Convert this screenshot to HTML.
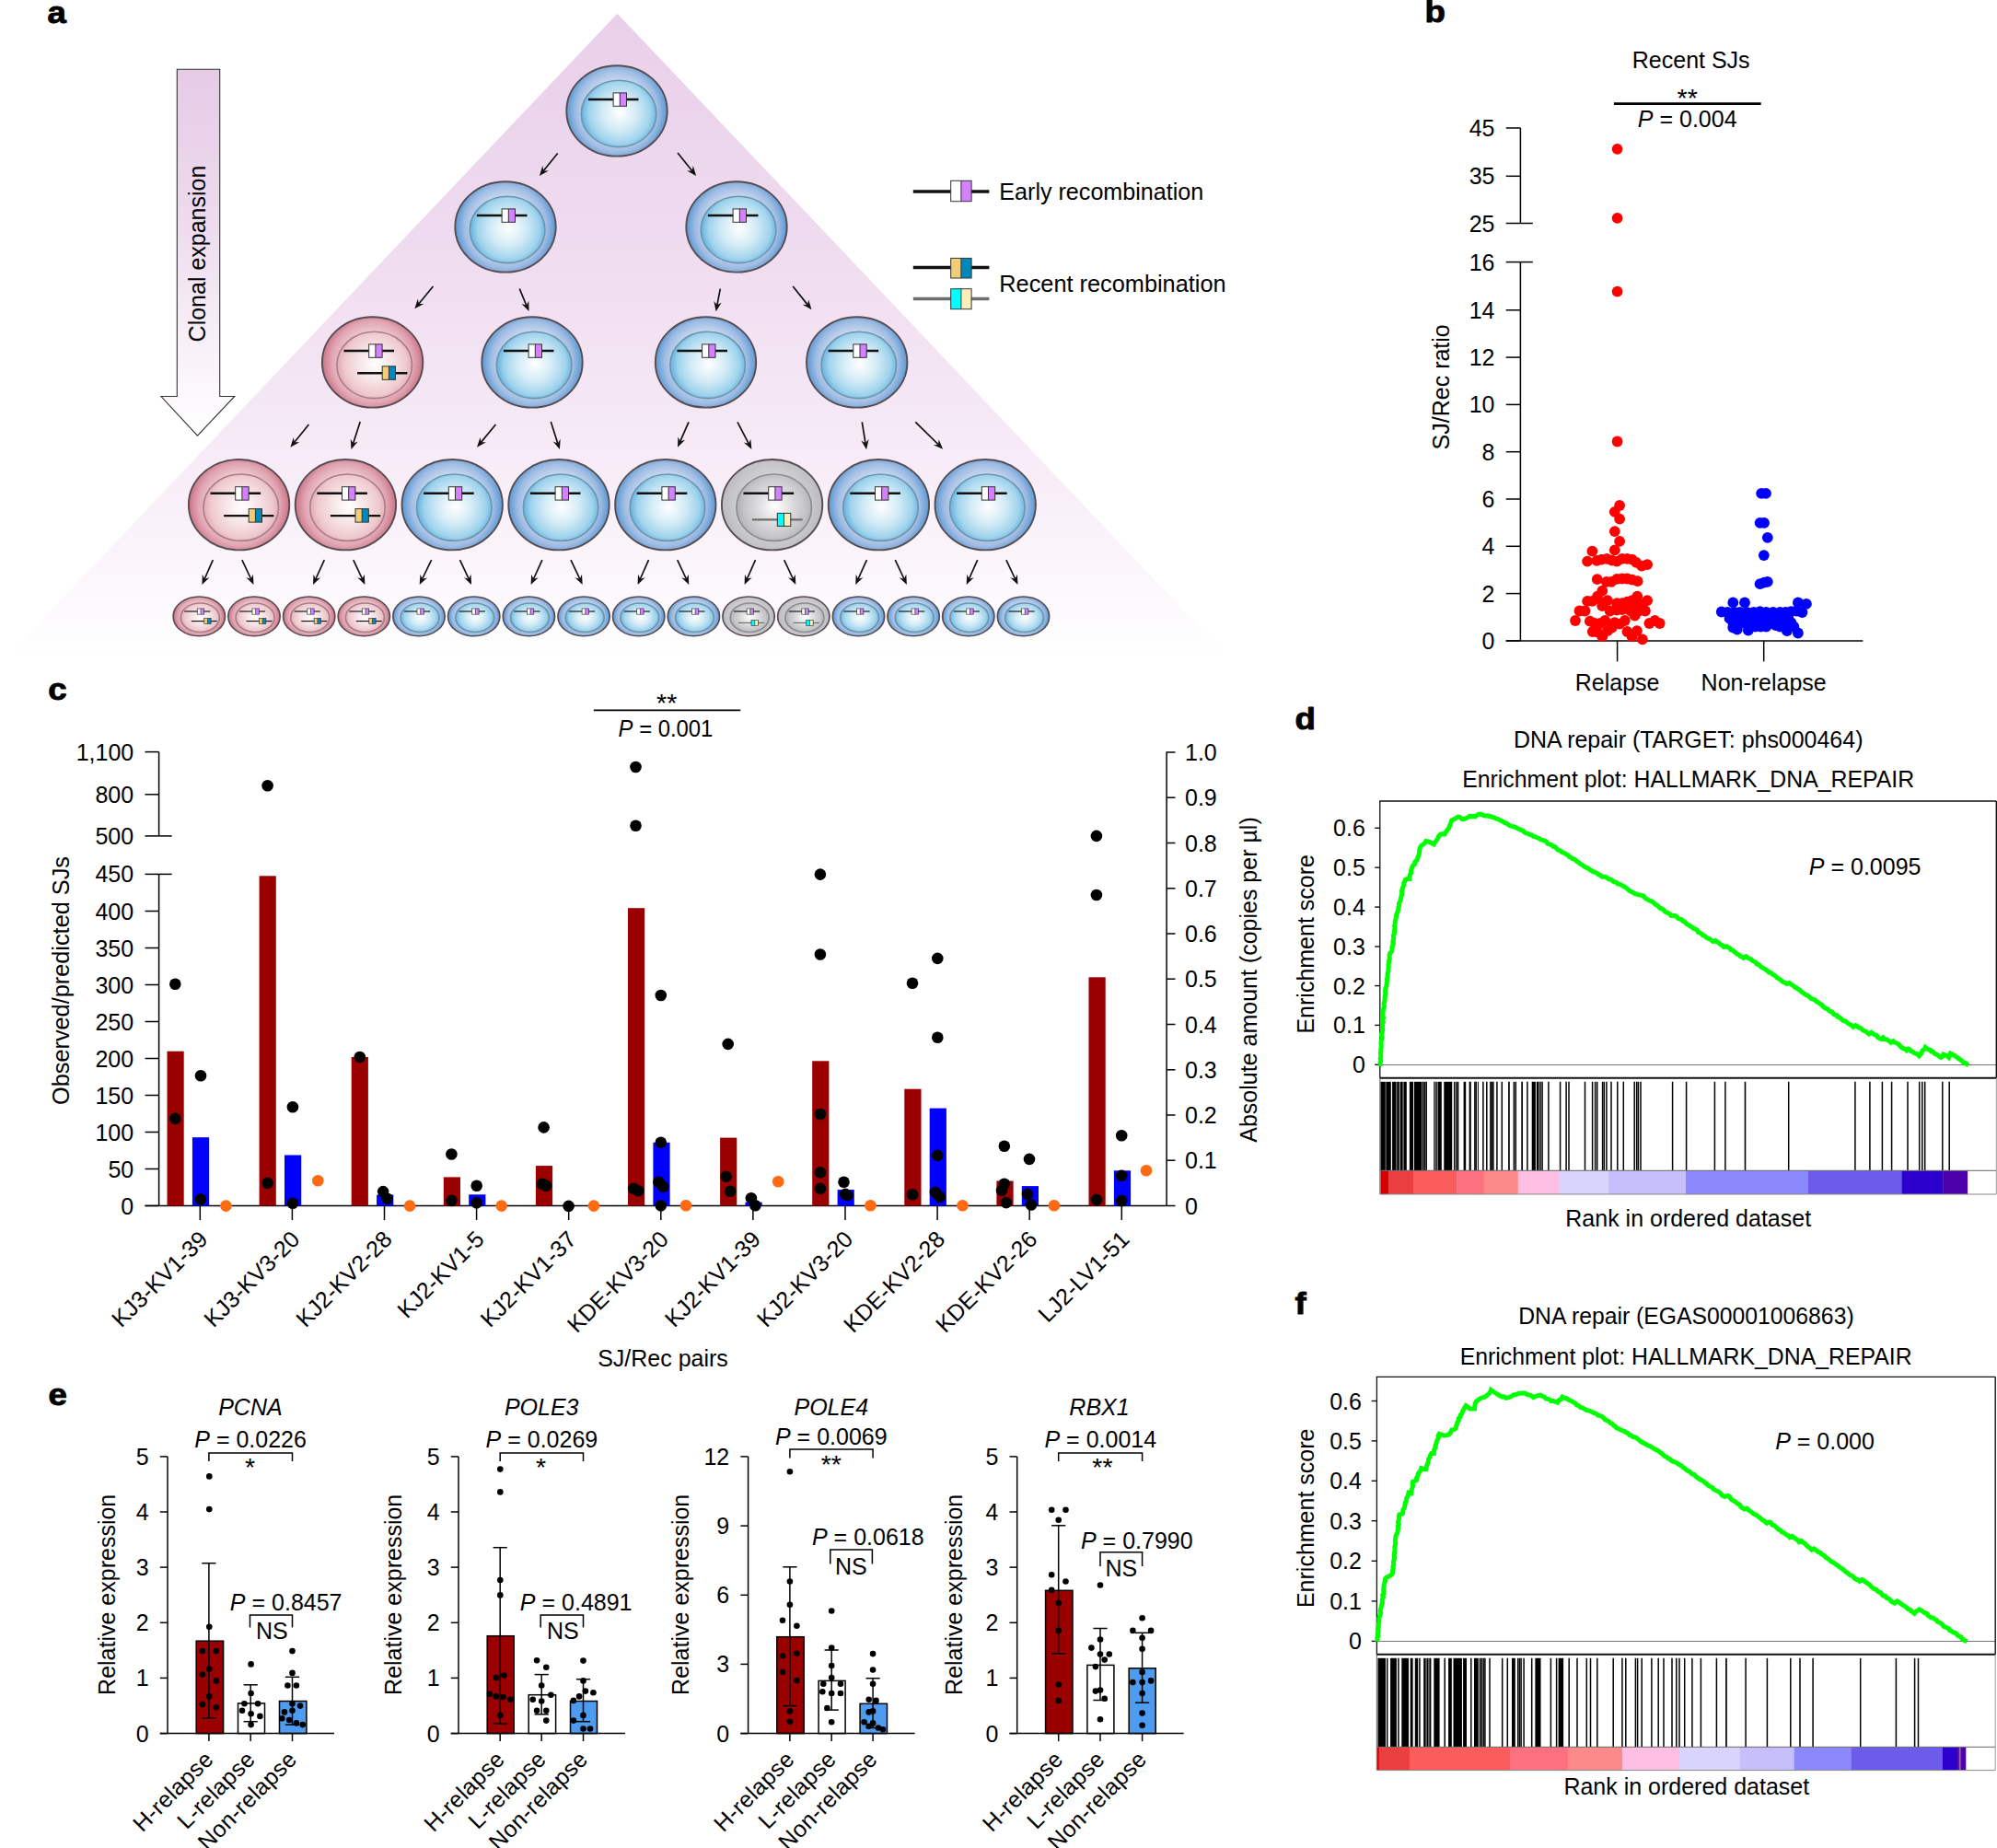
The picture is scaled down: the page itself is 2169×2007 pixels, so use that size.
<!DOCTYPE html>
<html><head><meta charset="utf-8"><title>Figure</title>
<style>html,body{margin:0;padding:0;background:#fff;}svg{display:block;font-family:"Liberation Sans",sans-serif;}</style>
</head><body>
<svg width="2169" height="2007" viewBox="0 0 2169 2007" font-family='"Liberation Sans", sans-serif'>
<rect width="2169" height="2007" fill="#fff"/>
<defs>
<linearGradient id="triG" x1="0" y1="0" x2="0" y2="1">
<stop offset="0" stop-color="#e9d0e9"/><stop offset="0.35" stop-color="#efdbef"/><stop offset="0.7" stop-color="#f7ecf7"/><stop offset="0.93" stop-color="#fdfafd"/><stop offset="1" stop-color="#ffffff"/>
</linearGradient>
<linearGradient id="arrG" x1="0" y1="0" x2="0" y2="1">
<stop offset="0" stop-color="#e6cbe6"/><stop offset="0.4" stop-color="#eddaed"/><stop offset="0.75" stop-color="#f8f0f8"/><stop offset="1" stop-color="#ffffff"/>
</linearGradient>
<radialGradient id="bO" gradientUnits="userSpaceOnUse" cx="0" cy="0" r="56">
<stop offset="0" stop-color="#d6e2f3"/><stop offset="0.6" stop-color="#c6d6ee"/><stop offset="0.8" stop-color="#9fbce3"/><stop offset="1" stop-color="#4f93d2"/>
</radialGradient>
<radialGradient id="bN" gradientUnits="userSpaceOnUse" cx="3" cy="2" r="42">
<stop offset="0" stop-color="#ffffff"/><stop offset="0.45" stop-color="#d3ebf6"/><stop offset="0.8" stop-color="#9fd3ec"/><stop offset="1" stop-color="#62afdf"/>
</radialGradient>
<radialGradient id="pO" gradientUnits="userSpaceOnUse" cx="0" cy="0" r="56">
<stop offset="0" stop-color="#f0d8dc"/><stop offset="0.6" stop-color="#ebc6cd"/><stop offset="0.8" stop-color="#e0a4b2"/><stop offset="1" stop-color="#c86c80"/>
</radialGradient>
<radialGradient id="pN" gradientUnits="userSpaceOnUse" cx="3" cy="2" r="42">
<stop offset="0" stop-color="#ffffff"/><stop offset="0.45" stop-color="#f6e3e5"/><stop offset="0.8" stop-color="#eec9cd"/><stop offset="1" stop-color="#e3a8b2"/>
</radialGradient>
<radialGradient id="gO" gradientUnits="userSpaceOnUse" cx="0" cy="0" r="56">
<stop offset="0" stop-color="#dcdcde"/><stop offset="0.6" stop-color="#d0d0d3"/><stop offset="0.8" stop-color="#c6c5ca"/><stop offset="1" stop-color="#b9b8be"/>
</radialGradient>
<radialGradient id="gN" gradientUnits="userSpaceOnUse" cx="3" cy="2" r="42">
<stop offset="0" stop-color="#ffffff"/><stop offset="0.45" stop-color="#dcdcde"/><stop offset="0.8" stop-color="#c4c4c7"/><stop offset="1" stop-color="#b0b0b4"/>
</radialGradient>
</defs>
<path d="M670.5 14.7 L1331 711 L10 711 Z" fill="url(#triG)"/>
<path d="M192.3 75.3 L238.7 75.3 L238.7 430.5 L254.8 430.5 L214.5 473.2 L175 430.5 L192.3 430.5 Z" fill="url(#arrG)" stroke="#333" stroke-width="1.1"/>
<text x="223.0" y="275.5" font-size="25" text-anchor="middle" transform="rotate(-90 223.0 275.5)">Clonal expansion</text>
<text transform="translate(51.5 25.3) scale(1.1 1)" font-size="33.3" font-weight="bold" stroke="#000" stroke-width="0.9" stroke-linejoin="round">a</text>
<g transform="translate(670.0 120.4) scale(1.0 1.0)">
<ellipse cx="0" cy="0" rx="54.7" ry="49.2" fill="url(#bO)" stroke="#574c50" stroke-width="1.90"/>
<ellipse cx="2.1" cy="3" rx="40.8" ry="36.2" fill="url(#bN)" stroke="#6d94ad" stroke-width="1.60"/>
<line x1="-31.1" y1="-12.4" x2="23.5" y2="-12.4" stroke="#111" stroke-width="2.4"/>
<rect x="-3.9" y="-19.5" width="7.2" height="14.4" fill="#ffffff"/>
<rect x="3.3" y="-19.5" width="7.2" height="14.4" fill="#d580ff"/>
<rect x="-3.90" y="-19.50" width="14.40" height="14.40" fill="none" stroke="#333" stroke-width="1.0"/>
<line x1="3.3" y1="-19.5" x2="3.3" y2="-5.1" stroke="#333" stroke-width="1.0"/>
</g>
<g transform="translate(549.0 246.4) scale(1.0 1.0)">
<ellipse cx="0" cy="0" rx="54.7" ry="49.2" fill="url(#bO)" stroke="#574c50" stroke-width="1.90"/>
<ellipse cx="2.1" cy="3" rx="40.8" ry="36.2" fill="url(#bN)" stroke="#6d94ad" stroke-width="1.60"/>
<line x1="-31.1" y1="-12.4" x2="23.5" y2="-12.4" stroke="#111" stroke-width="2.4"/>
<rect x="-3.9" y="-19.5" width="7.2" height="14.4" fill="#ffffff"/>
<rect x="3.3" y="-19.5" width="7.2" height="14.4" fill="#d580ff"/>
<rect x="-3.90" y="-19.50" width="14.40" height="14.40" fill="none" stroke="#333" stroke-width="1.0"/>
<line x1="3.3" y1="-19.5" x2="3.3" y2="-5.1" stroke="#333" stroke-width="1.0"/>
</g>
<g transform="translate(800.0 246.4) scale(1.0 1.0)">
<ellipse cx="0" cy="0" rx="54.7" ry="49.2" fill="url(#bO)" stroke="#574c50" stroke-width="1.90"/>
<ellipse cx="2.1" cy="3" rx="40.8" ry="36.2" fill="url(#bN)" stroke="#6d94ad" stroke-width="1.60"/>
<line x1="-31.1" y1="-12.4" x2="23.5" y2="-12.4" stroke="#111" stroke-width="2.4"/>
<rect x="-3.9" y="-19.5" width="7.2" height="14.4" fill="#ffffff"/>
<rect x="3.3" y="-19.5" width="7.2" height="14.4" fill="#d580ff"/>
<rect x="-3.90" y="-19.50" width="14.40" height="14.40" fill="none" stroke="#333" stroke-width="1.0"/>
<line x1="3.3" y1="-19.5" x2="3.3" y2="-5.1" stroke="#333" stroke-width="1.0"/>
</g>
<g transform="translate(404.6 393.4) scale(1.0 1.0)">
<ellipse cx="0" cy="0" rx="54.7" ry="49.2" fill="url(#pO)" stroke="#574c50" stroke-width="1.90"/>
<ellipse cx="2.1" cy="3" rx="40.8" ry="36.2" fill="url(#pN)" stroke="#a97c89" stroke-width="1.60"/>
<line x1="-31.1" y1="-12.4" x2="23.5" y2="-12.4" stroke="#111" stroke-width="2.4"/>
<rect x="-3.9" y="-19.5" width="7.2" height="14.4" fill="#ffffff"/>
<rect x="3.3" y="-19.5" width="7.2" height="14.4" fill="#d580ff"/>
<rect x="-3.90" y="-19.50" width="14.40" height="14.40" fill="none" stroke="#333" stroke-width="1.0"/>
<line x1="3.3" y1="-19.5" x2="3.3" y2="-5.1" stroke="#333" stroke-width="1.0"/>
<line x1="-16.5" y1="11.9" x2="37.8" y2="11.9" stroke="#111" stroke-width="2.4"/>
<rect x="10.6" y="4.4" width="7.2" height="14.5" fill="#f2cd78"/>
<rect x="17.8" y="4.4" width="7.2" height="14.5" fill="#0088bb"/>
<rect x="10.60" y="4.40" width="14.30" height="14.50" fill="none" stroke="#333" stroke-width="1.0"/>
<line x1="17.8" y1="4.4" x2="17.8" y2="18.9" stroke="#333" stroke-width="1.0"/>
</g>
<g transform="translate(578.0 393.4) scale(1.0 1.0)">
<ellipse cx="0" cy="0" rx="54.7" ry="49.2" fill="url(#bO)" stroke="#574c50" stroke-width="1.90"/>
<ellipse cx="2.1" cy="3" rx="40.8" ry="36.2" fill="url(#bN)" stroke="#6d94ad" stroke-width="1.60"/>
<line x1="-31.1" y1="-12.4" x2="23.5" y2="-12.4" stroke="#111" stroke-width="2.4"/>
<rect x="-3.9" y="-19.5" width="7.2" height="14.4" fill="#ffffff"/>
<rect x="3.3" y="-19.5" width="7.2" height="14.4" fill="#d580ff"/>
<rect x="-3.90" y="-19.50" width="14.40" height="14.40" fill="none" stroke="#333" stroke-width="1.0"/>
<line x1="3.3" y1="-19.5" x2="3.3" y2="-5.1" stroke="#333" stroke-width="1.0"/>
</g>
<g transform="translate(766.5 393.4) scale(1.0 1.0)">
<ellipse cx="0" cy="0" rx="54.7" ry="49.2" fill="url(#bO)" stroke="#574c50" stroke-width="1.90"/>
<ellipse cx="2.1" cy="3" rx="40.8" ry="36.2" fill="url(#bN)" stroke="#6d94ad" stroke-width="1.60"/>
<line x1="-31.1" y1="-12.4" x2="23.5" y2="-12.4" stroke="#111" stroke-width="2.4"/>
<rect x="-3.9" y="-19.5" width="7.2" height="14.4" fill="#ffffff"/>
<rect x="3.3" y="-19.5" width="7.2" height="14.4" fill="#d580ff"/>
<rect x="-3.90" y="-19.50" width="14.40" height="14.40" fill="none" stroke="#333" stroke-width="1.0"/>
<line x1="3.3" y1="-19.5" x2="3.3" y2="-5.1" stroke="#333" stroke-width="1.0"/>
</g>
<g transform="translate(930.7 393.4) scale(1.0 1.0)">
<ellipse cx="0" cy="0" rx="54.7" ry="49.2" fill="url(#bO)" stroke="#574c50" stroke-width="1.90"/>
<ellipse cx="2.1" cy="3" rx="40.8" ry="36.2" fill="url(#bN)" stroke="#6d94ad" stroke-width="1.60"/>
<line x1="-31.1" y1="-12.4" x2="23.5" y2="-12.4" stroke="#111" stroke-width="2.4"/>
<rect x="-3.9" y="-19.5" width="7.2" height="14.4" fill="#ffffff"/>
<rect x="3.3" y="-19.5" width="7.2" height="14.4" fill="#d580ff"/>
<rect x="-3.90" y="-19.50" width="14.40" height="14.40" fill="none" stroke="#333" stroke-width="1.0"/>
<line x1="3.3" y1="-19.5" x2="3.3" y2="-5.1" stroke="#333" stroke-width="1.0"/>
</g>
<g transform="translate(259.6 548.2) scale(1.0 1.0)">
<ellipse cx="0" cy="0" rx="54.7" ry="49.2" fill="url(#pO)" stroke="#574c50" stroke-width="1.90"/>
<ellipse cx="2.1" cy="3" rx="40.8" ry="36.2" fill="url(#pN)" stroke="#a97c89" stroke-width="1.60"/>
<line x1="-31.1" y1="-12.4" x2="23.5" y2="-12.4" stroke="#111" stroke-width="2.4"/>
<rect x="-3.9" y="-19.5" width="7.2" height="14.4" fill="#ffffff"/>
<rect x="3.3" y="-19.5" width="7.2" height="14.4" fill="#d580ff"/>
<rect x="-3.90" y="-19.50" width="14.40" height="14.40" fill="none" stroke="#333" stroke-width="1.0"/>
<line x1="3.3" y1="-19.5" x2="3.3" y2="-5.1" stroke="#333" stroke-width="1.0"/>
<line x1="-16.5" y1="11.9" x2="37.8" y2="11.9" stroke="#111" stroke-width="2.4"/>
<rect x="10.6" y="4.4" width="7.2" height="14.5" fill="#f2cd78"/>
<rect x="17.8" y="4.4" width="7.2" height="14.5" fill="#0088bb"/>
<rect x="10.60" y="4.40" width="14.30" height="14.50" fill="none" stroke="#333" stroke-width="1.0"/>
<line x1="17.8" y1="4.4" x2="17.8" y2="18.9" stroke="#333" stroke-width="1.0"/>
</g>
<g transform="translate(375.4 548.2) scale(1.0 1.0)">
<ellipse cx="0" cy="0" rx="54.7" ry="49.2" fill="url(#pO)" stroke="#574c50" stroke-width="1.90"/>
<ellipse cx="2.1" cy="3" rx="40.8" ry="36.2" fill="url(#pN)" stroke="#a97c89" stroke-width="1.60"/>
<line x1="-31.1" y1="-12.4" x2="23.5" y2="-12.4" stroke="#111" stroke-width="2.4"/>
<rect x="-3.9" y="-19.5" width="7.2" height="14.4" fill="#ffffff"/>
<rect x="3.3" y="-19.5" width="7.2" height="14.4" fill="#d580ff"/>
<rect x="-3.90" y="-19.50" width="14.40" height="14.40" fill="none" stroke="#333" stroke-width="1.0"/>
<line x1="3.3" y1="-19.5" x2="3.3" y2="-5.1" stroke="#333" stroke-width="1.0"/>
<line x1="-16.5" y1="11.9" x2="37.8" y2="11.9" stroke="#111" stroke-width="2.4"/>
<rect x="10.6" y="4.4" width="7.2" height="14.5" fill="#f2cd78"/>
<rect x="17.8" y="4.4" width="7.2" height="14.5" fill="#0088bb"/>
<rect x="10.60" y="4.40" width="14.30" height="14.50" fill="none" stroke="#333" stroke-width="1.0"/>
<line x1="17.8" y1="4.4" x2="17.8" y2="18.9" stroke="#333" stroke-width="1.0"/>
</g>
<g transform="translate(491.2 548.2) scale(1.0 1.0)">
<ellipse cx="0" cy="0" rx="54.7" ry="49.2" fill="url(#bO)" stroke="#574c50" stroke-width="1.90"/>
<ellipse cx="2.1" cy="3" rx="40.8" ry="36.2" fill="url(#bN)" stroke="#6d94ad" stroke-width="1.60"/>
<line x1="-31.1" y1="-12.4" x2="23.5" y2="-12.4" stroke="#111" stroke-width="2.4"/>
<rect x="-3.9" y="-19.5" width="7.2" height="14.4" fill="#ffffff"/>
<rect x="3.3" y="-19.5" width="7.2" height="14.4" fill="#d580ff"/>
<rect x="-3.90" y="-19.50" width="14.40" height="14.40" fill="none" stroke="#333" stroke-width="1.0"/>
<line x1="3.3" y1="-19.5" x2="3.3" y2="-5.1" stroke="#333" stroke-width="1.0"/>
</g>
<g transform="translate(607.0 548.2) scale(1.0 1.0)">
<ellipse cx="0" cy="0" rx="54.7" ry="49.2" fill="url(#bO)" stroke="#574c50" stroke-width="1.90"/>
<ellipse cx="2.1" cy="3" rx="40.8" ry="36.2" fill="url(#bN)" stroke="#6d94ad" stroke-width="1.60"/>
<line x1="-31.1" y1="-12.4" x2="23.5" y2="-12.4" stroke="#111" stroke-width="2.4"/>
<rect x="-3.9" y="-19.5" width="7.2" height="14.4" fill="#ffffff"/>
<rect x="3.3" y="-19.5" width="7.2" height="14.4" fill="#d580ff"/>
<rect x="-3.90" y="-19.50" width="14.40" height="14.40" fill="none" stroke="#333" stroke-width="1.0"/>
<line x1="3.3" y1="-19.5" x2="3.3" y2="-5.1" stroke="#333" stroke-width="1.0"/>
</g>
<g transform="translate(722.8 548.2) scale(1.0 1.0)">
<ellipse cx="0" cy="0" rx="54.7" ry="49.2" fill="url(#bO)" stroke="#574c50" stroke-width="1.90"/>
<ellipse cx="2.1" cy="3" rx="40.8" ry="36.2" fill="url(#bN)" stroke="#6d94ad" stroke-width="1.60"/>
<line x1="-31.1" y1="-12.4" x2="23.5" y2="-12.4" stroke="#111" stroke-width="2.4"/>
<rect x="-3.9" y="-19.5" width="7.2" height="14.4" fill="#ffffff"/>
<rect x="3.3" y="-19.5" width="7.2" height="14.4" fill="#d580ff"/>
<rect x="-3.90" y="-19.50" width="14.40" height="14.40" fill="none" stroke="#333" stroke-width="1.0"/>
<line x1="3.3" y1="-19.5" x2="3.3" y2="-5.1" stroke="#333" stroke-width="1.0"/>
</g>
<g transform="translate(838.6 548.2) scale(1.0 1.0)">
<ellipse cx="0" cy="0" rx="54.7" ry="49.2" fill="url(#gO)" stroke="#574c50" stroke-width="1.90"/>
<ellipse cx="2.1" cy="3" rx="40.8" ry="36.2" fill="url(#gN)" stroke="#8c8c90" stroke-width="1.60"/>
<line x1="-31.1" y1="-12.4" x2="23.5" y2="-12.4" stroke="#111" stroke-width="2.4"/>
<rect x="-3.9" y="-19.5" width="7.2" height="14.4" fill="#ffffff"/>
<rect x="3.3" y="-19.5" width="7.2" height="14.4" fill="#d580ff"/>
<rect x="-3.90" y="-19.50" width="14.40" height="14.40" fill="none" stroke="#333" stroke-width="1.0"/>
<line x1="3.3" y1="-19.5" x2="3.3" y2="-5.1" stroke="#333" stroke-width="1.0"/>
<line x1="-21.7" y1="16.2" x2="33.0" y2="16.2" stroke="#6e6e6e" stroke-width="2.4"/>
<rect x="5.7" y="9.2" width="7.2" height="14.0" fill="#00ffff"/>
<rect x="12.9" y="9.2" width="7.2" height="14.0" fill="#fbeebd"/>
<rect x="5.70" y="9.20" width="14.50" height="14.00" fill="none" stroke="#333" stroke-width="1.0"/>
<line x1="12.9" y1="9.2" x2="12.9" y2="23.2" stroke="#333" stroke-width="1.0"/>
</g>
<g transform="translate(954.4 548.2) scale(1.0 1.0)">
<ellipse cx="0" cy="0" rx="54.7" ry="49.2" fill="url(#bO)" stroke="#574c50" stroke-width="1.90"/>
<ellipse cx="2.1" cy="3" rx="40.8" ry="36.2" fill="url(#bN)" stroke="#6d94ad" stroke-width="1.60"/>
<line x1="-31.1" y1="-12.4" x2="23.5" y2="-12.4" stroke="#111" stroke-width="2.4"/>
<rect x="-3.9" y="-19.5" width="7.2" height="14.4" fill="#ffffff"/>
<rect x="3.3" y="-19.5" width="7.2" height="14.4" fill="#d580ff"/>
<rect x="-3.90" y="-19.50" width="14.40" height="14.40" fill="none" stroke="#333" stroke-width="1.0"/>
<line x1="3.3" y1="-19.5" x2="3.3" y2="-5.1" stroke="#333" stroke-width="1.0"/>
</g>
<g transform="translate(1070.2 548.2) scale(1.0 1.0)">
<ellipse cx="0" cy="0" rx="54.7" ry="49.2" fill="url(#bO)" stroke="#574c50" stroke-width="1.90"/>
<ellipse cx="2.1" cy="3" rx="40.8" ry="36.2" fill="url(#bN)" stroke="#6d94ad" stroke-width="1.60"/>
<line x1="-31.1" y1="-12.4" x2="23.5" y2="-12.4" stroke="#111" stroke-width="2.4"/>
<rect x="-3.9" y="-19.5" width="7.2" height="14.4" fill="#ffffff"/>
<rect x="3.3" y="-19.5" width="7.2" height="14.4" fill="#d580ff"/>
<rect x="-3.90" y="-19.50" width="14.40" height="14.40" fill="none" stroke="#333" stroke-width="1.0"/>
<line x1="3.3" y1="-19.5" x2="3.3" y2="-5.1" stroke="#333" stroke-width="1.0"/>
</g>
<g transform="translate(216.3 669.4) scale(0.515 0.435)">
<ellipse cx="0" cy="0" rx="54.7" ry="49.2" fill="url(#pO)" stroke="#574c50" stroke-width="3.26"/>
<ellipse cx="2.1" cy="3" rx="40.8" ry="36.2" fill="url(#pN)" stroke="#a97c89" stroke-width="3.37"/>
<line x1="-31.1" y1="-12.4" x2="23.5" y2="-12.4" stroke="#111" stroke-width="2.6"/>
<rect x="-3.9" y="-19.5" width="7.2" height="14.4" fill="#ffffff"/>
<rect x="3.3" y="-19.5" width="7.2" height="14.4" fill="#d580ff"/>
<rect x="-3.90" y="-19.50" width="14.40" height="14.40" fill="none" stroke="#333" stroke-width="1.4"/>
<line x1="3.3" y1="-19.5" x2="3.3" y2="-5.1" stroke="#333" stroke-width="1.4"/>
<line x1="-16.5" y1="11.9" x2="37.8" y2="11.9" stroke="#111" stroke-width="2.6"/>
<rect x="10.6" y="4.4" width="7.2" height="14.5" fill="#f2cd78"/>
<rect x="17.8" y="4.4" width="7.2" height="14.5" fill="#0088bb"/>
<rect x="10.60" y="4.40" width="14.30" height="14.50" fill="none" stroke="#333" stroke-width="1.4"/>
<line x1="17.8" y1="4.4" x2="17.8" y2="18.9" stroke="#333" stroke-width="1.4"/>
</g>
<g transform="translate(276.0 669.4) scale(0.515 0.435)">
<ellipse cx="0" cy="0" rx="54.7" ry="49.2" fill="url(#pO)" stroke="#574c50" stroke-width="3.26"/>
<ellipse cx="2.1" cy="3" rx="40.8" ry="36.2" fill="url(#pN)" stroke="#a97c89" stroke-width="3.37"/>
<line x1="-31.1" y1="-12.4" x2="23.5" y2="-12.4" stroke="#111" stroke-width="2.6"/>
<rect x="-3.9" y="-19.5" width="7.2" height="14.4" fill="#ffffff"/>
<rect x="3.3" y="-19.5" width="7.2" height="14.4" fill="#d580ff"/>
<rect x="-3.90" y="-19.50" width="14.40" height="14.40" fill="none" stroke="#333" stroke-width="1.4"/>
<line x1="3.3" y1="-19.5" x2="3.3" y2="-5.1" stroke="#333" stroke-width="1.4"/>
<line x1="-16.5" y1="11.9" x2="37.8" y2="11.9" stroke="#111" stroke-width="2.6"/>
<rect x="10.6" y="4.4" width="7.2" height="14.5" fill="#f2cd78"/>
<rect x="17.8" y="4.4" width="7.2" height="14.5" fill="#0088bb"/>
<rect x="10.60" y="4.40" width="14.30" height="14.50" fill="none" stroke="#333" stroke-width="1.4"/>
<line x1="17.8" y1="4.4" x2="17.8" y2="18.9" stroke="#333" stroke-width="1.4"/>
</g>
<g transform="translate(335.7 669.4) scale(0.515 0.435)">
<ellipse cx="0" cy="0" rx="54.7" ry="49.2" fill="url(#pO)" stroke="#574c50" stroke-width="3.26"/>
<ellipse cx="2.1" cy="3" rx="40.8" ry="36.2" fill="url(#pN)" stroke="#a97c89" stroke-width="3.37"/>
<line x1="-31.1" y1="-12.4" x2="23.5" y2="-12.4" stroke="#111" stroke-width="2.6"/>
<rect x="-3.9" y="-19.5" width="7.2" height="14.4" fill="#ffffff"/>
<rect x="3.3" y="-19.5" width="7.2" height="14.4" fill="#d580ff"/>
<rect x="-3.90" y="-19.50" width="14.40" height="14.40" fill="none" stroke="#333" stroke-width="1.4"/>
<line x1="3.3" y1="-19.5" x2="3.3" y2="-5.1" stroke="#333" stroke-width="1.4"/>
<line x1="-16.5" y1="11.9" x2="37.8" y2="11.9" stroke="#111" stroke-width="2.6"/>
<rect x="10.6" y="4.4" width="7.2" height="14.5" fill="#f2cd78"/>
<rect x="17.8" y="4.4" width="7.2" height="14.5" fill="#0088bb"/>
<rect x="10.60" y="4.40" width="14.30" height="14.50" fill="none" stroke="#333" stroke-width="1.4"/>
<line x1="17.8" y1="4.4" x2="17.8" y2="18.9" stroke="#333" stroke-width="1.4"/>
</g>
<g transform="translate(395.3 669.4) scale(0.515 0.435)">
<ellipse cx="0" cy="0" rx="54.7" ry="49.2" fill="url(#pO)" stroke="#574c50" stroke-width="3.26"/>
<ellipse cx="2.1" cy="3" rx="40.8" ry="36.2" fill="url(#pN)" stroke="#a97c89" stroke-width="3.37"/>
<line x1="-31.1" y1="-12.4" x2="23.5" y2="-12.4" stroke="#111" stroke-width="2.6"/>
<rect x="-3.9" y="-19.5" width="7.2" height="14.4" fill="#ffffff"/>
<rect x="3.3" y="-19.5" width="7.2" height="14.4" fill="#d580ff"/>
<rect x="-3.90" y="-19.50" width="14.40" height="14.40" fill="none" stroke="#333" stroke-width="1.4"/>
<line x1="3.3" y1="-19.5" x2="3.3" y2="-5.1" stroke="#333" stroke-width="1.4"/>
<line x1="-16.5" y1="11.9" x2="37.8" y2="11.9" stroke="#111" stroke-width="2.6"/>
<rect x="10.6" y="4.4" width="7.2" height="14.5" fill="#f2cd78"/>
<rect x="17.8" y="4.4" width="7.2" height="14.5" fill="#0088bb"/>
<rect x="10.60" y="4.40" width="14.30" height="14.50" fill="none" stroke="#333" stroke-width="1.4"/>
<line x1="17.8" y1="4.4" x2="17.8" y2="18.9" stroke="#333" stroke-width="1.4"/>
</g>
<g transform="translate(455.0 669.4) scale(0.515 0.435)">
<ellipse cx="0" cy="0" rx="54.7" ry="49.2" fill="url(#bO)" stroke="#574c50" stroke-width="3.26"/>
<ellipse cx="2.1" cy="3" rx="40.8" ry="36.2" fill="url(#bN)" stroke="#6d94ad" stroke-width="3.37"/>
<line x1="-31.1" y1="-12.4" x2="23.5" y2="-12.4" stroke="#111" stroke-width="2.6"/>
<rect x="-3.9" y="-19.5" width="7.2" height="14.4" fill="#ffffff"/>
<rect x="3.3" y="-19.5" width="7.2" height="14.4" fill="#d580ff"/>
<rect x="-3.90" y="-19.50" width="14.40" height="14.40" fill="none" stroke="#333" stroke-width="1.4"/>
<line x1="3.3" y1="-19.5" x2="3.3" y2="-5.1" stroke="#333" stroke-width="1.4"/>
</g>
<g transform="translate(514.7 669.4) scale(0.515 0.435)">
<ellipse cx="0" cy="0" rx="54.7" ry="49.2" fill="url(#bO)" stroke="#574c50" stroke-width="3.26"/>
<ellipse cx="2.1" cy="3" rx="40.8" ry="36.2" fill="url(#bN)" stroke="#6d94ad" stroke-width="3.37"/>
<line x1="-31.1" y1="-12.4" x2="23.5" y2="-12.4" stroke="#111" stroke-width="2.6"/>
<rect x="-3.9" y="-19.5" width="7.2" height="14.4" fill="#ffffff"/>
<rect x="3.3" y="-19.5" width="7.2" height="14.4" fill="#d580ff"/>
<rect x="-3.90" y="-19.50" width="14.40" height="14.40" fill="none" stroke="#333" stroke-width="1.4"/>
<line x1="3.3" y1="-19.5" x2="3.3" y2="-5.1" stroke="#333" stroke-width="1.4"/>
</g>
<g transform="translate(574.4 669.4) scale(0.515 0.435)">
<ellipse cx="0" cy="0" rx="54.7" ry="49.2" fill="url(#bO)" stroke="#574c50" stroke-width="3.26"/>
<ellipse cx="2.1" cy="3" rx="40.8" ry="36.2" fill="url(#bN)" stroke="#6d94ad" stroke-width="3.37"/>
<line x1="-31.1" y1="-12.4" x2="23.5" y2="-12.4" stroke="#111" stroke-width="2.6"/>
<rect x="-3.9" y="-19.5" width="7.2" height="14.4" fill="#ffffff"/>
<rect x="3.3" y="-19.5" width="7.2" height="14.4" fill="#d580ff"/>
<rect x="-3.90" y="-19.50" width="14.40" height="14.40" fill="none" stroke="#333" stroke-width="1.4"/>
<line x1="3.3" y1="-19.5" x2="3.3" y2="-5.1" stroke="#333" stroke-width="1.4"/>
</g>
<g transform="translate(634.1 669.4) scale(0.515 0.435)">
<ellipse cx="0" cy="0" rx="54.7" ry="49.2" fill="url(#bO)" stroke="#574c50" stroke-width="3.26"/>
<ellipse cx="2.1" cy="3" rx="40.8" ry="36.2" fill="url(#bN)" stroke="#6d94ad" stroke-width="3.37"/>
<line x1="-31.1" y1="-12.4" x2="23.5" y2="-12.4" stroke="#111" stroke-width="2.6"/>
<rect x="-3.9" y="-19.5" width="7.2" height="14.4" fill="#ffffff"/>
<rect x="3.3" y="-19.5" width="7.2" height="14.4" fill="#d580ff"/>
<rect x="-3.90" y="-19.50" width="14.40" height="14.40" fill="none" stroke="#333" stroke-width="1.4"/>
<line x1="3.3" y1="-19.5" x2="3.3" y2="-5.1" stroke="#333" stroke-width="1.4"/>
</g>
<g transform="translate(693.7 669.4) scale(0.515 0.435)">
<ellipse cx="0" cy="0" rx="54.7" ry="49.2" fill="url(#bO)" stroke="#574c50" stroke-width="3.26"/>
<ellipse cx="2.1" cy="3" rx="40.8" ry="36.2" fill="url(#bN)" stroke="#6d94ad" stroke-width="3.37"/>
<line x1="-31.1" y1="-12.4" x2="23.5" y2="-12.4" stroke="#111" stroke-width="2.6"/>
<rect x="-3.9" y="-19.5" width="7.2" height="14.4" fill="#ffffff"/>
<rect x="3.3" y="-19.5" width="7.2" height="14.4" fill="#d580ff"/>
<rect x="-3.90" y="-19.50" width="14.40" height="14.40" fill="none" stroke="#333" stroke-width="1.4"/>
<line x1="3.3" y1="-19.5" x2="3.3" y2="-5.1" stroke="#333" stroke-width="1.4"/>
</g>
<g transform="translate(753.4 669.4) scale(0.515 0.435)">
<ellipse cx="0" cy="0" rx="54.7" ry="49.2" fill="url(#bO)" stroke="#574c50" stroke-width="3.26"/>
<ellipse cx="2.1" cy="3" rx="40.8" ry="36.2" fill="url(#bN)" stroke="#6d94ad" stroke-width="3.37"/>
<line x1="-31.1" y1="-12.4" x2="23.5" y2="-12.4" stroke="#111" stroke-width="2.6"/>
<rect x="-3.9" y="-19.5" width="7.2" height="14.4" fill="#ffffff"/>
<rect x="3.3" y="-19.5" width="7.2" height="14.4" fill="#d580ff"/>
<rect x="-3.90" y="-19.50" width="14.40" height="14.40" fill="none" stroke="#333" stroke-width="1.4"/>
<line x1="3.3" y1="-19.5" x2="3.3" y2="-5.1" stroke="#333" stroke-width="1.4"/>
</g>
<g transform="translate(813.1 669.4) scale(0.515 0.435)">
<ellipse cx="0" cy="0" rx="54.7" ry="49.2" fill="url(#gO)" stroke="#574c50" stroke-width="3.26"/>
<ellipse cx="2.1" cy="3" rx="40.8" ry="36.2" fill="url(#gN)" stroke="#8c8c90" stroke-width="3.37"/>
<line x1="-31.1" y1="-12.4" x2="23.5" y2="-12.4" stroke="#111" stroke-width="2.6"/>
<rect x="-3.9" y="-19.5" width="7.2" height="14.4" fill="#ffffff"/>
<rect x="3.3" y="-19.5" width="7.2" height="14.4" fill="#d580ff"/>
<rect x="-3.90" y="-19.50" width="14.40" height="14.40" fill="none" stroke="#333" stroke-width="1.4"/>
<line x1="3.3" y1="-19.5" x2="3.3" y2="-5.1" stroke="#333" stroke-width="1.4"/>
<line x1="-21.7" y1="16.2" x2="33.0" y2="16.2" stroke="#6e6e6e" stroke-width="2.6"/>
<rect x="5.7" y="9.2" width="7.2" height="14.0" fill="#00ffff"/>
<rect x="12.9" y="9.2" width="7.2" height="14.0" fill="#fbeebd"/>
<rect x="5.70" y="9.20" width="14.50" height="14.00" fill="none" stroke="#333" stroke-width="1.4"/>
<line x1="12.9" y1="9.2" x2="12.9" y2="23.2" stroke="#333" stroke-width="1.4"/>
</g>
<g transform="translate(872.8 669.4) scale(0.515 0.435)">
<ellipse cx="0" cy="0" rx="54.7" ry="49.2" fill="url(#gO)" stroke="#574c50" stroke-width="3.26"/>
<ellipse cx="2.1" cy="3" rx="40.8" ry="36.2" fill="url(#gN)" stroke="#8c8c90" stroke-width="3.37"/>
<line x1="-31.1" y1="-12.4" x2="23.5" y2="-12.4" stroke="#111" stroke-width="2.6"/>
<rect x="-3.9" y="-19.5" width="7.2" height="14.4" fill="#ffffff"/>
<rect x="3.3" y="-19.5" width="7.2" height="14.4" fill="#d580ff"/>
<rect x="-3.90" y="-19.50" width="14.40" height="14.40" fill="none" stroke="#333" stroke-width="1.4"/>
<line x1="3.3" y1="-19.5" x2="3.3" y2="-5.1" stroke="#333" stroke-width="1.4"/>
<line x1="-21.7" y1="16.2" x2="33.0" y2="16.2" stroke="#6e6e6e" stroke-width="2.6"/>
<rect x="5.7" y="9.2" width="7.2" height="14.0" fill="#00ffff"/>
<rect x="12.9" y="9.2" width="7.2" height="14.0" fill="#fbeebd"/>
<rect x="5.70" y="9.20" width="14.50" height="14.00" fill="none" stroke="#333" stroke-width="1.4"/>
<line x1="12.9" y1="9.2" x2="12.9" y2="23.2" stroke="#333" stroke-width="1.4"/>
</g>
<g transform="translate(932.5 669.4) scale(0.515 0.435)">
<ellipse cx="0" cy="0" rx="54.7" ry="49.2" fill="url(#bO)" stroke="#574c50" stroke-width="3.26"/>
<ellipse cx="2.1" cy="3" rx="40.8" ry="36.2" fill="url(#bN)" stroke="#6d94ad" stroke-width="3.37"/>
<line x1="-31.1" y1="-12.4" x2="23.5" y2="-12.4" stroke="#111" stroke-width="2.6"/>
<rect x="-3.9" y="-19.5" width="7.2" height="14.4" fill="#ffffff"/>
<rect x="3.3" y="-19.5" width="7.2" height="14.4" fill="#d580ff"/>
<rect x="-3.90" y="-19.50" width="14.40" height="14.40" fill="none" stroke="#333" stroke-width="1.4"/>
<line x1="3.3" y1="-19.5" x2="3.3" y2="-5.1" stroke="#333" stroke-width="1.4"/>
</g>
<g transform="translate(992.1 669.4) scale(0.515 0.435)">
<ellipse cx="0" cy="0" rx="54.7" ry="49.2" fill="url(#bO)" stroke="#574c50" stroke-width="3.26"/>
<ellipse cx="2.1" cy="3" rx="40.8" ry="36.2" fill="url(#bN)" stroke="#6d94ad" stroke-width="3.37"/>
<line x1="-31.1" y1="-12.4" x2="23.5" y2="-12.4" stroke="#111" stroke-width="2.6"/>
<rect x="-3.9" y="-19.5" width="7.2" height="14.4" fill="#ffffff"/>
<rect x="3.3" y="-19.5" width="7.2" height="14.4" fill="#d580ff"/>
<rect x="-3.90" y="-19.50" width="14.40" height="14.40" fill="none" stroke="#333" stroke-width="1.4"/>
<line x1="3.3" y1="-19.5" x2="3.3" y2="-5.1" stroke="#333" stroke-width="1.4"/>
</g>
<g transform="translate(1051.8 669.4) scale(0.515 0.435)">
<ellipse cx="0" cy="0" rx="54.7" ry="49.2" fill="url(#bO)" stroke="#574c50" stroke-width="3.26"/>
<ellipse cx="2.1" cy="3" rx="40.8" ry="36.2" fill="url(#bN)" stroke="#6d94ad" stroke-width="3.37"/>
<line x1="-31.1" y1="-12.4" x2="23.5" y2="-12.4" stroke="#111" stroke-width="2.6"/>
<rect x="-3.9" y="-19.5" width="7.2" height="14.4" fill="#ffffff"/>
<rect x="3.3" y="-19.5" width="7.2" height="14.4" fill="#d580ff"/>
<rect x="-3.90" y="-19.50" width="14.40" height="14.40" fill="none" stroke="#333" stroke-width="1.4"/>
<line x1="3.3" y1="-19.5" x2="3.3" y2="-5.1" stroke="#333" stroke-width="1.4"/>
</g>
<g transform="translate(1111.5 669.4) scale(0.515 0.435)">
<ellipse cx="0" cy="0" rx="54.7" ry="49.2" fill="url(#bO)" stroke="#574c50" stroke-width="3.26"/>
<ellipse cx="2.1" cy="3" rx="40.8" ry="36.2" fill="url(#bN)" stroke="#6d94ad" stroke-width="3.37"/>
<line x1="-31.1" y1="-12.4" x2="23.5" y2="-12.4" stroke="#111" stroke-width="2.6"/>
<rect x="-3.9" y="-19.5" width="7.2" height="14.4" fill="#ffffff"/>
<rect x="3.3" y="-19.5" width="7.2" height="14.4" fill="#d580ff"/>
<rect x="-3.90" y="-19.50" width="14.40" height="14.40" fill="none" stroke="#333" stroke-width="1.4"/>
<line x1="3.3" y1="-19.5" x2="3.3" y2="-5.1" stroke="#333" stroke-width="1.4"/>
</g>
<line x1="605.7" y1="166.5" x2="589.1" y2="187.0" stroke="#111" stroke-width="1.7"/>
<path d="M585.9 190.9 L589.3 180.1 L590.3 185.5 L595.8 185.4Z" fill="#111"/>
<line x1="736.0" y1="166.0" x2="752.9" y2="187.0" stroke="#111" stroke-width="1.7"/>
<path d="M756.1 190.9 L746.2 185.4 L751.7 185.5 L752.8 180.1Z" fill="#111"/>
<line x1="470.4" y1="311.0" x2="453.6" y2="331.5" stroke="#111" stroke-width="1.7"/>
<path d="M450.4 335.3 L453.8 324.5 L454.9 329.9 L460.3 329.9Z" fill="#111"/>
<line x1="564.3" y1="313.7" x2="572.5" y2="333.5" stroke="#111" stroke-width="1.7"/>
<path d="M574.5 338.1 L566.5 330.0 L571.8 331.6 L574.3 326.8Z" fill="#111"/>
<line x1="782.3" y1="313.7" x2="778.5" y2="333.3" stroke="#111" stroke-width="1.7"/>
<path d="M777.6 338.2 L775.4 327.1 L778.9 331.3 L783.7 328.7Z" fill="#111"/>
<line x1="861.2" y1="311.0" x2="878.3" y2="332.4" stroke="#111" stroke-width="1.7"/>
<path d="M881.5 336.3 L871.6 330.8 L877.1 330.9 L878.2 325.5Z" fill="#111"/>
<line x1="335.4" y1="461.0" x2="318.6" y2="481.8" stroke="#111" stroke-width="1.7"/>
<path d="M315.4 485.7 L318.8 474.9 L319.8 480.3 L325.3 480.2Z" fill="#111"/>
<line x1="391.2" y1="458.1" x2="383.0" y2="483.4" stroke="#111" stroke-width="1.7"/>
<path d="M381.5 488.1 L380.7 476.8 L383.6 481.5 L388.7 479.4Z" fill="#111"/>
<line x1="538.4" y1="461.0" x2="521.2" y2="481.9" stroke="#111" stroke-width="1.7"/>
<path d="M518.0 485.7 L521.5 474.9 L522.5 480.3 L527.9 480.3Z" fill="#111"/>
<line x1="598.3" y1="458.1" x2="606.4" y2="483.4" stroke="#111" stroke-width="1.7"/>
<path d="M607.9 488.1 L600.7 479.4 L605.8 481.5 L608.7 476.8Z" fill="#111"/>
<line x1="748.0" y1="458.3" x2="738.0" y2="481.2" stroke="#111" stroke-width="1.7"/>
<path d="M736.0 485.8 L736.4 474.5 L738.8 479.3 L744.1 477.8Z" fill="#111"/>
<line x1="801.0" y1="458.3" x2="814.1" y2="483.6" stroke="#111" stroke-width="1.7"/>
<path d="M816.4 488.0 L807.8 480.6 L813.2 481.8 L815.3 476.8Z" fill="#111"/>
<line x1="936.3" y1="458.3" x2="940.3" y2="483.2" stroke="#111" stroke-width="1.7"/>
<path d="M941.1 488.2 L935.3 478.5 L940.0 481.3 L943.6 477.1Z" fill="#111"/>
<line x1="994.3" y1="458.3" x2="1020.6" y2="484.2" stroke="#111" stroke-width="1.7"/>
<path d="M1024.1 487.7 L1013.7 483.3 L1019.1 482.8 L1019.6 477.3Z" fill="#111"/>
<line x1="231.3" y1="608.2" x2="221.4" y2="630.5" stroke="#111" stroke-width="1.7"/>
<path d="M219.4 635.1 L219.8 623.8 L222.2 628.7 L227.5 627.2Z" fill="#111"/>
<line x1="262.9" y1="608.2" x2="273.4" y2="630.5" stroke="#111" stroke-width="1.7"/>
<path d="M275.5 635.0 L267.3 627.3 L272.5 628.7 L274.9 623.7Z" fill="#111"/>
<line x1="352.3" y1="608.2" x2="342.1" y2="630.5" stroke="#111" stroke-width="1.7"/>
<path d="M340.0 635.0 L340.5 623.8 L342.9 628.7 L348.2 627.3Z" fill="#111"/>
<line x1="383.8" y1="608.2" x2="394.3" y2="630.5" stroke="#111" stroke-width="1.7"/>
<path d="M396.4 635.0 L388.2 627.3 L393.4 628.7 L395.8 623.7Z" fill="#111"/>
<line x1="468.6" y1="608.2" x2="457.8" y2="630.5" stroke="#111" stroke-width="1.7"/>
<path d="M455.7 635.0 L456.4 623.7 L458.7 628.7 L464.0 627.4Z" fill="#111"/>
<line x1="499.5" y1="608.2" x2="510.0" y2="630.5" stroke="#111" stroke-width="1.7"/>
<path d="M512.1 635.0 L503.9 627.3 L509.1 628.7 L511.5 623.7Z" fill="#111"/>
<line x1="588.9" y1="608.2" x2="578.7" y2="630.5" stroke="#111" stroke-width="1.7"/>
<path d="M576.6 635.0 L577.1 623.8 L579.5 628.7 L584.8 627.3Z" fill="#111"/>
<line x1="620.0" y1="608.2" x2="630.6" y2="630.5" stroke="#111" stroke-width="1.7"/>
<path d="M632.7 635.0 L624.4 627.3 L629.7 628.7 L632.0 623.7Z" fill="#111"/>
<line x1="704.5" y1="608.2" x2="694.6" y2="630.5" stroke="#111" stroke-width="1.7"/>
<path d="M692.6 635.1 L693.0 623.8 L695.4 628.7 L700.7 627.2Z" fill="#111"/>
<line x1="735.7" y1="608.2" x2="746.2" y2="630.5" stroke="#111" stroke-width="1.7"/>
<path d="M748.3 635.0 L740.1 627.3 L745.3 628.7 L747.7 623.7Z" fill="#111"/>
<line x1="820.5" y1="608.2" x2="810.6" y2="630.5" stroke="#111" stroke-width="1.7"/>
<path d="M808.6 635.1 L809.0 623.8 L811.4 628.7 L816.7 627.2Z" fill="#111"/>
<line x1="851.7" y1="608.2" x2="862.2" y2="630.5" stroke="#111" stroke-width="1.7"/>
<path d="M864.3 635.0 L856.1 627.3 L861.3 628.7 L863.7 623.7Z" fill="#111"/>
<line x1="941.4" y1="608.2" x2="931.3" y2="630.5" stroke="#111" stroke-width="1.7"/>
<path d="M929.2 635.0 L929.7 623.8 L932.1 628.7 L937.4 627.2Z" fill="#111"/>
<line x1="972.3" y1="608.2" x2="982.8" y2="630.5" stroke="#111" stroke-width="1.7"/>
<path d="M984.9 635.0 L976.7 627.3 L981.9 628.7 L984.3 623.7Z" fill="#111"/>
<line x1="1061.7" y1="608.2" x2="1051.7" y2="630.5" stroke="#111" stroke-width="1.7"/>
<path d="M1049.7 635.1 L1050.2 623.8 L1052.6 628.7 L1057.8 627.2Z" fill="#111"/>
<line x1="1092.9" y1="608.2" x2="1103.4" y2="630.5" stroke="#111" stroke-width="1.7"/>
<path d="M1105.5 635.0 L1097.3 627.3 L1102.5 628.7 L1104.9 623.7Z" fill="#111"/>
<line x1="991.8" y1="208.0" x2="1074.4" y2="208.0" stroke="#111" stroke-width="3.5"/>
<rect x="1032.7" y="196.3" width="11.2" height="22.4" fill="#ffffff"/>
<rect x="1043.9" y="196.3" width="11.2" height="22.4" fill="#d580ff"/>
<rect x="1032.70" y="196.30" width="22.40" height="22.40" fill="none" stroke="#333" stroke-width="1"/>
<line x1="1043.9" y1="196.3" x2="1043.9" y2="218.7" stroke="#333" stroke-width="1"/>
<text x="1085.3" y="216.5" font-size="25" textLength="222.0" lengthAdjust="spacingAndGlyphs">Early recombination</text>
<line x1="991.8" y1="290.5" x2="1074.4" y2="290.5" stroke="#111" stroke-width="3.5"/>
<rect x="1032.7" y="280.4" width="11.2" height="21.6" fill="#f2cd78"/>
<rect x="1043.9" y="280.4" width="11.2" height="21.6" fill="#0088bb"/>
<rect x="1032.70" y="280.40" width="22.40" height="21.60" fill="none" stroke="#333" stroke-width="1"/>
<line x1="1043.9" y1="280.4" x2="1043.9" y2="302.0" stroke="#333" stroke-width="1"/>
<line x1="991.8" y1="324.5" x2="1074.4" y2="324.5" stroke="#6e6e6e" stroke-width="3.5"/>
<rect x="1032.7" y="313.7" width="11.2" height="22.0" fill="#00ffff"/>
<rect x="1043.9" y="313.7" width="11.2" height="22.0" fill="#fbeebd"/>
<rect x="1032.70" y="313.70" width="22.40" height="22.00" fill="none" stroke="#333" stroke-width="1"/>
<line x1="1043.9" y1="313.7" x2="1043.9" y2="335.7" stroke="#333" stroke-width="1"/>
<text x="1085.3" y="316.5" font-size="25" textLength="246.3" lengthAdjust="spacingAndGlyphs">Recent recombination</text>
<text transform="translate(1547.5 23.5) scale(1.1 1)" font-size="33.3" font-weight="bold" stroke="#000" stroke-width="0.9" stroke-linejoin="round">b</text>
<text x="1836.7" y="74.4" font-size="25" text-anchor="middle">Recent SJs</text>
<text x="1832.7" y="115.5" font-size="28.5" text-anchor="middle">**</text>
<line x1="1752.9" y1="112.6" x2="1912.7" y2="112.6" stroke="#000" stroke-width="2.6"/>
<text x="1832.7" y="138.4" font-size="25" text-anchor="middle"><tspan font-style="italic">P</tspan> = 0.004</text>
<line x1="1651.4" y1="139.0" x2="1651.4" y2="242.5" stroke="#000" stroke-width="1.5"/>
<line x1="1651.4" y1="284.4" x2="1651.4" y2="695.9" stroke="#000" stroke-width="1.5"/>
<line x1="1635.7" y1="139.0" x2="1651.4" y2="139.0" stroke="#000" stroke-width="1.5"/>
<text x="1623.5" y="148.0" font-size="25" text-anchor="end">45</text>
<line x1="1635.7" y1="191.3" x2="1651.4" y2="191.3" stroke="#000" stroke-width="1.5"/>
<text x="1623.5" y="200.3" font-size="25" text-anchor="end">35</text>
<line x1="1635.7" y1="242.5" x2="1664.8" y2="242.5" stroke="#000" stroke-width="1.5"/>
<text x="1623.5" y="251.5" font-size="25" text-anchor="end">25</text>
<line x1="1635.7" y1="284.6" x2="1664.8" y2="284.6" stroke="#000" stroke-width="1.5"/>
<text x="1623.5" y="293.6" font-size="25" text-anchor="end">16</text>
<line x1="1635.7" y1="336.8" x2="1651.4" y2="336.8" stroke="#000" stroke-width="1.5"/>
<text x="1623.5" y="345.8" font-size="25" text-anchor="end">14</text>
<line x1="1635.7" y1="388.1" x2="1651.4" y2="388.1" stroke="#000" stroke-width="1.5"/>
<text x="1623.5" y="397.1" font-size="25" text-anchor="end">12</text>
<line x1="1635.7" y1="439.4" x2="1651.4" y2="439.4" stroke="#000" stroke-width="1.5"/>
<text x="1623.5" y="448.4" font-size="25" text-anchor="end">10</text>
<line x1="1635.7" y1="490.7" x2="1651.4" y2="490.7" stroke="#000" stroke-width="1.5"/>
<text x="1623.5" y="499.7" font-size="25" text-anchor="end">8</text>
<line x1="1635.7" y1="542.0" x2="1651.4" y2="542.0" stroke="#000" stroke-width="1.5"/>
<text x="1623.5" y="551.0" font-size="25" text-anchor="end">6</text>
<line x1="1635.7" y1="593.3" x2="1651.4" y2="593.3" stroke="#000" stroke-width="1.5"/>
<text x="1623.5" y="602.3" font-size="25" text-anchor="end">4</text>
<line x1="1635.7" y1="644.6" x2="1651.4" y2="644.6" stroke="#000" stroke-width="1.5"/>
<text x="1623.5" y="653.6" font-size="25" text-anchor="end">2</text>
<line x1="1635.7" y1="695.9" x2="1651.4" y2="695.9" stroke="#000" stroke-width="1.5"/>
<text x="1623.5" y="704.9" font-size="25" text-anchor="end">0</text>
<line x1="1635.7" y1="695.9" x2="2023.3" y2="695.9" stroke="#000" stroke-width="1.5"/>
<line x1="1756.6" y1="695.9" x2="1756.6" y2="718.4" stroke="#000" stroke-width="1.5"/>
<line x1="1915.7" y1="695.9" x2="1915.7" y2="718.4" stroke="#000" stroke-width="1.5"/>
<text x="1756.6" y="749.5" font-size="25" text-anchor="middle">Relapse</text>
<text x="1915.7" y="749.5" font-size="25" text-anchor="middle">Non-relapse</text>
<text x="1574.0" y="420.3" font-size="25" text-anchor="middle" transform="rotate(-90 1574.0 420.3)">SJ/Rec ratio</text>
<circle cx="1756.6" cy="161.8" r="5.9" fill="#ff0000"/>
<circle cx="1756.6" cy="236.9" r="5.9" fill="#ff0000"/>
<circle cx="1756.6" cy="316.6" r="5.9" fill="#ff0000"/>
<circle cx="1756.6" cy="479.5" r="5.9" fill="#ff0000"/>
<circle cx="1759.1" cy="549.0" r="5.9" fill="#ff0000"/>
<circle cx="1753.8" cy="555.8" r="5.9" fill="#ff0000"/>
<circle cx="1759.1" cy="563.6" r="5.9" fill="#ff0000"/>
<circle cx="1753.8" cy="577.1" r="5.9" fill="#ff0000"/>
<circle cx="1759.1" cy="587.9" r="5.9" fill="#ff0000"/>
<circle cx="1753.8" cy="597.4" r="5.9" fill="#ff0000"/>
<circle cx="1729.4" cy="598.6" r="5.9" fill="#ff0000"/>
<circle cx="1724.1" cy="609.7" r="5.9" fill="#ff0000"/>
<circle cx="1734.3" cy="608.9" r="5.9" fill="#ff0000"/>
<circle cx="1739.6" cy="607.6" r="5.9" fill="#ff0000"/>
<circle cx="1745.3" cy="606.8" r="5.9" fill="#ff0000"/>
<circle cx="1750.8" cy="608.6" r="5.9" fill="#ff0000"/>
<circle cx="1756.1" cy="609.7" r="5.9" fill="#ff0000"/>
<circle cx="1761.8" cy="606.8" r="5.9" fill="#ff0000"/>
<circle cx="1767.4" cy="606.8" r="5.9" fill="#ff0000"/>
<circle cx="1772.6" cy="607.6" r="5.9" fill="#ff0000"/>
<circle cx="1777.1" cy="610.9" r="5.9" fill="#ff0000"/>
<circle cx="1783.1" cy="614.6" r="5.9" fill="#ff0000"/>
<circle cx="1789.1" cy="613.1" r="5.9" fill="#ff0000"/>
<circle cx="1734.8" cy="629.2" r="5.9" fill="#ff0000"/>
<circle cx="1744.8" cy="631.9" r="5.9" fill="#ff0000"/>
<circle cx="1750.1" cy="631.9" r="5.9" fill="#ff0000"/>
<circle cx="1756.1" cy="628.9" r="5.9" fill="#ff0000"/>
<circle cx="1761.8" cy="628.5" r="5.9" fill="#ff0000"/>
<circle cx="1767.4" cy="628.5" r="5.9" fill="#ff0000"/>
<circle cx="1772.6" cy="629.7" r="5.9" fill="#ff0000"/>
<circle cx="1778.6" cy="631.2" r="5.9" fill="#ff0000"/>
<circle cx="1740.3" cy="641.7" r="5.9" fill="#ff0000"/>
<circle cx="1735.1" cy="647.7" r="5.9" fill="#ff0000"/>
<circle cx="1724.1" cy="652.9" r="5.9" fill="#ff0000"/>
<circle cx="1729.4" cy="652.9" r="5.9" fill="#ff0000"/>
<circle cx="1740.3" cy="655.2" r="5.9" fill="#ff0000"/>
<circle cx="1745.9" cy="652.2" r="5.9" fill="#ff0000"/>
<circle cx="1740.3" cy="658.2" r="5.9" fill="#ff0000"/>
<circle cx="1756.1" cy="655.2" r="5.9" fill="#ff0000"/>
<circle cx="1761.8" cy="655.2" r="5.9" fill="#ff0000"/>
<circle cx="1767.4" cy="653.7" r="5.9" fill="#ff0000"/>
<circle cx="1772.6" cy="652.2" r="5.9" fill="#ff0000"/>
<circle cx="1778.3" cy="647.7" r="5.9" fill="#ff0000"/>
<circle cx="1783.9" cy="656.7" r="5.9" fill="#ff0000"/>
<circle cx="1789.1" cy="652.2" r="5.9" fill="#ff0000"/>
<circle cx="1778.6" cy="655.2" r="5.9" fill="#ff0000"/>
<circle cx="1715.5" cy="663.5" r="5.9" fill="#ff0000"/>
<circle cx="1721.5" cy="663.5" r="5.9" fill="#ff0000"/>
<circle cx="1748.6" cy="663.5" r="5.9" fill="#ff0000"/>
<circle cx="1756.1" cy="662.7" r="5.9" fill="#ff0000"/>
<circle cx="1761.8" cy="662.0" r="5.9" fill="#ff0000"/>
<circle cx="1771.1" cy="663.5" r="5.9" fill="#ff0000"/>
<circle cx="1775.6" cy="668.7" r="5.9" fill="#ff0000"/>
<circle cx="1780.1" cy="663.5" r="5.9" fill="#ff0000"/>
<circle cx="1786.9" cy="663.5" r="5.9" fill="#ff0000"/>
<circle cx="1711.0" cy="674.0" r="5.9" fill="#ff0000"/>
<circle cx="1726.8" cy="674.7" r="5.9" fill="#ff0000"/>
<circle cx="1732.1" cy="677.0" r="5.9" fill="#ff0000"/>
<circle cx="1738.1" cy="677.0" r="5.9" fill="#ff0000"/>
<circle cx="1743.3" cy="674.0" r="5.9" fill="#ff0000"/>
<circle cx="1753.8" cy="676.2" r="5.9" fill="#ff0000"/>
<circle cx="1759.1" cy="677.7" r="5.9" fill="#ff0000"/>
<circle cx="1764.8" cy="674.0" r="5.9" fill="#ff0000"/>
<circle cx="1791.4" cy="677.0" r="5.9" fill="#ff0000"/>
<circle cx="1797.4" cy="674.0" r="5.9" fill="#ff0000"/>
<circle cx="1802.7" cy="677.0" r="5.9" fill="#ff0000"/>
<circle cx="1729.8" cy="686.0" r="5.9" fill="#ff0000"/>
<circle cx="1735.1" cy="686.7" r="5.9" fill="#ff0000"/>
<circle cx="1745.9" cy="685.2" r="5.9" fill="#ff0000"/>
<circle cx="1740.3" cy="691.2" r="5.9" fill="#ff0000"/>
<circle cx="1750.8" cy="681.5" r="5.9" fill="#ff0000"/>
<circle cx="1767.4" cy="686.0" r="5.9" fill="#ff0000"/>
<circle cx="1777.9" cy="685.2" r="5.9" fill="#ff0000"/>
<circle cx="1772.6" cy="691.2" r="5.9" fill="#ff0000"/>
<circle cx="1783.9" cy="694.3" r="5.9" fill="#ff0000"/>
<circle cx="1913.1" cy="535.8" r="5.9" fill="#0000ff"/>
<circle cx="1918.0" cy="535.8" r="5.9" fill="#0000ff"/>
<circle cx="1911.6" cy="567.8" r="5.9" fill="#0000ff"/>
<circle cx="1916.1" cy="567.8" r="5.9" fill="#0000ff"/>
<circle cx="1919.8" cy="583.8" r="5.9" fill="#0000ff"/>
<circle cx="1915.8" cy="603.1" r="5.9" fill="#0000ff"/>
<circle cx="1911.6" cy="634.2" r="5.9" fill="#0000ff"/>
<circle cx="1919.8" cy="631.9" r="5.9" fill="#0000ff"/>
<circle cx="1916.1" cy="632.7" r="5.9" fill="#0000ff"/>
<circle cx="1882.3" cy="654.4" r="5.9" fill="#0000ff"/>
<circle cx="1895.0" cy="654.4" r="5.9" fill="#0000ff"/>
<circle cx="1952.9" cy="654.4" r="5.9" fill="#0000ff"/>
<circle cx="1961.9" cy="655.9" r="5.9" fill="#0000ff"/>
<circle cx="1869.8" cy="664.5" r="5.9" fill="#0000ff"/>
<circle cx="1876.3" cy="665.0" r="5.9" fill="#0000ff"/>
<circle cx="1883.8" cy="665.0" r="5.9" fill="#0000ff"/>
<circle cx="1889.8" cy="665.0" r="5.9" fill="#0000ff"/>
<circle cx="1897.3" cy="665.0" r="5.9" fill="#0000ff"/>
<circle cx="1904.8" cy="665.0" r="5.9" fill="#0000ff"/>
<circle cx="1911.6" cy="664.2" r="5.9" fill="#0000ff"/>
<circle cx="1918.3" cy="665.0" r="5.9" fill="#0000ff"/>
<circle cx="1925.8" cy="665.0" r="5.9" fill="#0000ff"/>
<circle cx="1933.4" cy="665.0" r="5.9" fill="#0000ff"/>
<circle cx="1939.4" cy="665.0" r="5.9" fill="#0000ff"/>
<circle cx="1945.4" cy="664.2" r="5.9" fill="#0000ff"/>
<circle cx="1951.4" cy="663.5" r="5.9" fill="#0000ff"/>
<circle cx="1957.4" cy="665.0" r="5.9" fill="#0000ff"/>
<circle cx="1878.5" cy="671.7" r="5.9" fill="#0000ff"/>
<circle cx="1889.8" cy="673.2" r="5.9" fill="#0000ff"/>
<circle cx="1897.3" cy="673.2" r="5.9" fill="#0000ff"/>
<circle cx="1903.3" cy="673.2" r="5.9" fill="#0000ff"/>
<circle cx="1919.8" cy="673.2" r="5.9" fill="#0000ff"/>
<circle cx="1927.3" cy="673.2" r="5.9" fill="#0000ff"/>
<circle cx="1945.4" cy="676.2" r="5.9" fill="#0000ff"/>
<circle cx="1942.4" cy="671.7" r="5.9" fill="#0000ff"/>
<circle cx="1885.3" cy="668.7" r="5.9" fill="#0000ff"/>
<circle cx="1892.8" cy="669.0" r="5.9" fill="#0000ff"/>
<circle cx="1900.3" cy="668.7" r="5.9" fill="#0000ff"/>
<circle cx="1907.8" cy="669.0" r="5.9" fill="#0000ff"/>
<circle cx="1915.3" cy="668.7" r="5.9" fill="#0000ff"/>
<circle cx="1922.8" cy="669.0" r="5.9" fill="#0000ff"/>
<circle cx="1930.3" cy="668.7" r="5.9" fill="#0000ff"/>
<circle cx="1937.9" cy="669.0" r="5.9" fill="#0000ff"/>
<circle cx="1882.3" cy="676.2" r="5.9" fill="#0000ff"/>
<circle cx="1891.3" cy="676.5" r="5.9" fill="#0000ff"/>
<circle cx="1900.3" cy="677.0" r="5.9" fill="#0000ff"/>
<circle cx="1907.8" cy="676.5" r="5.9" fill="#0000ff"/>
<circle cx="1915.3" cy="677.0" r="5.9" fill="#0000ff"/>
<circle cx="1922.8" cy="676.5" r="5.9" fill="#0000ff"/>
<circle cx="1930.3" cy="677.0" r="5.9" fill="#0000ff"/>
<circle cx="1937.9" cy="676.2" r="5.9" fill="#0000ff"/>
<circle cx="1882.3" cy="681.5" r="5.9" fill="#0000ff"/>
<circle cx="1886.8" cy="683.7" r="5.9" fill="#0000ff"/>
<circle cx="1898.8" cy="684.5" r="5.9" fill="#0000ff"/>
<circle cx="1906.3" cy="680.7" r="5.9" fill="#0000ff"/>
<circle cx="1912.3" cy="680.7" r="5.9" fill="#0000ff"/>
<circle cx="1918.3" cy="680.7" r="5.9" fill="#0000ff"/>
<circle cx="1933.4" cy="680.7" r="5.9" fill="#0000ff"/>
<circle cx="1940.9" cy="685.2" r="5.9" fill="#0000ff"/>
<circle cx="1948.4" cy="680.7" r="5.9" fill="#0000ff"/>
<circle cx="1952.9" cy="687.5" r="5.9" fill="#0000ff"/>
<circle cx="1928.8" cy="679.2" r="5.9" fill="#0000ff"/>
<text transform="translate(52.3 760.3) scale(1.1 1)" font-size="33.3" font-weight="bold" stroke="#000" stroke-width="0.9" stroke-linejoin="round">c</text>
<line x1="172.6" y1="816.6" x2="172.6" y2="907.9" stroke="#000" stroke-width="1.5"/>
<line x1="172.6" y1="949.4" x2="172.6" y2="1309.5" stroke="#000" stroke-width="1.5"/>
<line x1="157.5" y1="816.6" x2="172.6" y2="816.6" stroke="#000" stroke-width="1.5"/>
<text x="145.2" y="825.6" font-size="25" text-anchor="end">1,100</text>
<line x1="157.5" y1="862.8" x2="172.6" y2="862.8" stroke="#000" stroke-width="1.5"/>
<text x="145.2" y="871.8" font-size="25" text-anchor="end">800</text>
<line x1="157.5" y1="907.9" x2="186.6" y2="907.9" stroke="#000" stroke-width="1.5"/>
<text x="145.2" y="916.9" font-size="25" text-anchor="end">500</text>
<line x1="157.5" y1="949.4" x2="186.6" y2="949.4" stroke="#000" stroke-width="1.5"/>
<text x="145.2" y="958.4" font-size="25" text-anchor="end">450</text>
<line x1="157.5" y1="989.5" x2="172.6" y2="989.5" stroke="#000" stroke-width="1.5"/>
<text x="145.2" y="998.5" font-size="25" text-anchor="end">400</text>
<line x1="157.5" y1="1029.5" x2="172.6" y2="1029.5" stroke="#000" stroke-width="1.5"/>
<text x="145.2" y="1038.5" font-size="25" text-anchor="end">350</text>
<line x1="157.5" y1="1069.5" x2="172.6" y2="1069.5" stroke="#000" stroke-width="1.5"/>
<text x="145.2" y="1078.5" font-size="25" text-anchor="end">300</text>
<line x1="157.5" y1="1109.5" x2="172.6" y2="1109.5" stroke="#000" stroke-width="1.5"/>
<text x="145.2" y="1118.5" font-size="25" text-anchor="end">250</text>
<line x1="157.5" y1="1149.5" x2="172.6" y2="1149.5" stroke="#000" stroke-width="1.5"/>
<text x="145.2" y="1158.5" font-size="25" text-anchor="end">200</text>
<line x1="157.5" y1="1189.5" x2="172.6" y2="1189.5" stroke="#000" stroke-width="1.5"/>
<text x="145.2" y="1198.5" font-size="25" text-anchor="end">150</text>
<line x1="157.5" y1="1229.5" x2="172.6" y2="1229.5" stroke="#000" stroke-width="1.5"/>
<text x="145.2" y="1238.5" font-size="25" text-anchor="end">100</text>
<line x1="157.5" y1="1269.5" x2="172.6" y2="1269.5" stroke="#000" stroke-width="1.5"/>
<text x="145.2" y="1278.5" font-size="25" text-anchor="end">50</text>
<line x1="157.5" y1="1309.5" x2="172.6" y2="1309.5" stroke="#000" stroke-width="1.5"/>
<text x="145.2" y="1318.5" font-size="25" text-anchor="end">0</text>
<text x="74.5" y="1065.0" font-size="25" text-anchor="middle" transform="rotate(-90 74.5 1065.0)" textLength="270.0" lengthAdjust="spacingAndGlyphs">Observed/predicted SJs</text>
<line x1="157.5" y1="1309.5" x2="1267.1" y2="1309.5" stroke="#000" stroke-width="1.5"/>
<line x1="1267.1" y1="816.6" x2="1267.1" y2="1309.5" stroke="#000" stroke-width="1.5"/>
<line x1="1267.1" y1="1309.5" x2="1276.5" y2="1309.5" stroke="#000" stroke-width="1.5"/>
<text x="1287.0" y="1318.5" font-size="25">0</text>
<line x1="1267.1" y1="1260.2" x2="1276.5" y2="1260.2" stroke="#000" stroke-width="1.5"/>
<text x="1287.0" y="1269.2" font-size="25">0.1</text>
<line x1="1267.1" y1="1211.0" x2="1276.5" y2="1211.0" stroke="#000" stroke-width="1.5"/>
<text x="1287.0" y="1220.0" font-size="25">0.2</text>
<line x1="1267.1" y1="1161.8" x2="1276.5" y2="1161.8" stroke="#000" stroke-width="1.5"/>
<text x="1287.0" y="1170.8" font-size="25">0.3</text>
<line x1="1267.1" y1="1112.5" x2="1276.5" y2="1112.5" stroke="#000" stroke-width="1.5"/>
<text x="1287.0" y="1121.5" font-size="25">0.4</text>
<line x1="1267.1" y1="1063.2" x2="1276.5" y2="1063.2" stroke="#000" stroke-width="1.5"/>
<text x="1287.0" y="1072.2" font-size="25">0.5</text>
<line x1="1267.1" y1="1014.0" x2="1276.5" y2="1014.0" stroke="#000" stroke-width="1.5"/>
<text x="1287.0" y="1023.0" font-size="25">0.6</text>
<line x1="1267.1" y1="964.8" x2="1276.5" y2="964.8" stroke="#000" stroke-width="1.5"/>
<text x="1287.0" y="973.8" font-size="25">0.7</text>
<line x1="1267.1" y1="915.5" x2="1276.5" y2="915.5" stroke="#000" stroke-width="1.5"/>
<text x="1287.0" y="924.5" font-size="25">0.8</text>
<line x1="1267.1" y1="866.2" x2="1276.5" y2="866.2" stroke="#000" stroke-width="1.5"/>
<text x="1287.0" y="875.2" font-size="25">0.9</text>
<line x1="1267.1" y1="817.0" x2="1276.5" y2="817.0" stroke="#000" stroke-width="1.5"/>
<text x="1287.0" y="826.0" font-size="25">1.0</text>
<text x="1364.5" y="1064.0" font-size="25" text-anchor="middle" transform="rotate(-90 1364.5 1064.0)">Absolute amount (copies per µl)</text>
<text x="724.2" y="773.0" font-size="28.5" text-anchor="middle">**</text>
<line x1="644.9" y1="771.3" x2="804.3" y2="771.3" stroke="#000" stroke-width="1.8"/>
<text x="723.0" y="800.1" font-size="25" text-anchor="middle" textLength="102.8" lengthAdjust="spacingAndGlyphs"><tspan font-style="italic">P</tspan> = 0.001</text>
<rect x="181.5" y="1141.7" width="18.2" height="167.8" fill="#9b0000"/>
<rect x="208.9" y="1235.2" width="18.2" height="74.3" fill="#0000ff"/>
<line x1="217.3" y1="1309.5" x2="217.3" y2="1325.0" stroke="#000" stroke-width="1.5"/>
<text x="227.1" y="1347.5" font-size="25" text-anchor="end" transform="rotate(-45 227.1 1347.5)">KJ3-KV1-39</text>
<rect x="281.6" y="951.3" width="18.2" height="358.2" fill="#9b0000"/>
<rect x="309.0" y="1254.5" width="18.2" height="55.0" fill="#0000ff"/>
<line x1="317.4" y1="1309.5" x2="317.4" y2="1325.0" stroke="#000" stroke-width="1.5"/>
<text x="327.2" y="1347.5" font-size="25" text-anchor="end" transform="rotate(-45 327.2 1347.5)">KJ3-KV3-20</text>
<rect x="381.7" y="1148.0" width="18.2" height="161.5" fill="#9b0000"/>
<rect x="409.1" y="1297.6" width="18.2" height="11.9" fill="#0000ff"/>
<line x1="417.5" y1="1309.5" x2="417.5" y2="1325.0" stroke="#000" stroke-width="1.5"/>
<text x="427.3" y="1347.5" font-size="25" text-anchor="end" transform="rotate(-45 427.3 1347.5)">KJ2-KV2-28</text>
<rect x="481.8" y="1278.4" width="18.2" height="31.1" fill="#9b0000"/>
<rect x="509.2" y="1297.3" width="18.2" height="12.2" fill="#0000ff"/>
<line x1="517.6" y1="1309.5" x2="517.6" y2="1325.0" stroke="#000" stroke-width="1.5"/>
<text x="527.4" y="1347.5" font-size="25" text-anchor="end" transform="rotate(-45 527.4 1347.5)">KJ2-KV1-5</text>
<rect x="581.9" y="1266.1" width="18.2" height="43.4" fill="#9b0000"/>
<line x1="617.7" y1="1309.5" x2="617.7" y2="1325.0" stroke="#000" stroke-width="1.5"/>
<text x="627.5" y="1347.5" font-size="25" text-anchor="end" transform="rotate(-45 627.5 1347.5)">KJ2-KV1-37</text>
<rect x="682.0" y="986.2" width="18.2" height="323.3" fill="#9b0000"/>
<rect x="709.4" y="1240.8" width="18.2" height="68.7" fill="#0000ff"/>
<line x1="717.8" y1="1309.5" x2="717.8" y2="1325.0" stroke="#000" stroke-width="1.5"/>
<text x="727.6" y="1347.5" font-size="25" text-anchor="end" transform="rotate(-45 727.6 1347.5)">KDE-KV3-20</text>
<rect x="782.1" y="1235.6" width="18.2" height="73.9" fill="#9b0000"/>
<rect x="809.5" y="1305.7" width="18.2" height="3.8" fill="#0000ff"/>
<line x1="817.9" y1="1309.5" x2="817.9" y2="1325.0" stroke="#000" stroke-width="1.5"/>
<text x="827.7" y="1347.5" font-size="25" text-anchor="end" transform="rotate(-45 827.7 1347.5)">KJ2-KV1-39</text>
<rect x="882.2" y="1152.3" width="18.2" height="157.2" fill="#9b0000"/>
<rect x="909.6" y="1292.1" width="18.2" height="17.4" fill="#0000ff"/>
<line x1="918.0" y1="1309.5" x2="918.0" y2="1325.0" stroke="#000" stroke-width="1.5"/>
<text x="927.8" y="1347.5" font-size="25" text-anchor="end" transform="rotate(-45 927.8 1347.5)">KJ2-KV3-20</text>
<rect x="982.3" y="1182.7" width="18.2" height="126.8" fill="#9b0000"/>
<rect x="1009.7" y="1203.6" width="18.2" height="105.9" fill="#0000ff"/>
<line x1="1018.1" y1="1309.5" x2="1018.1" y2="1325.0" stroke="#000" stroke-width="1.5"/>
<text x="1027.9" y="1347.5" font-size="25" text-anchor="end" transform="rotate(-45 1027.9 1347.5)">KDE-KV2-28</text>
<rect x="1082.4" y="1282.5" width="18.2" height="27.0" fill="#9b0000"/>
<rect x="1109.8" y="1288.1" width="18.2" height="21.4" fill="#0000ff"/>
<line x1="1118.2" y1="1309.5" x2="1118.2" y2="1325.0" stroke="#000" stroke-width="1.5"/>
<text x="1128.0" y="1347.5" font-size="25" text-anchor="end" transform="rotate(-45 1128.0 1347.5)">KDE-KV2-26</text>
<rect x="1182.5" y="1061.3" width="18.2" height="248.2" fill="#9b0000"/>
<rect x="1209.9" y="1271.3" width="18.2" height="38.2" fill="#0000ff"/>
<line x1="1218.3" y1="1309.5" x2="1218.3" y2="1325.0" stroke="#000" stroke-width="1.5"/>
<text x="1228.1" y="1347.5" font-size="25" text-anchor="end" transform="rotate(-45 1228.1 1347.5)">LJ2-LV1-51</text>
<text x="720.0" y="1483.5" font-size="25" text-anchor="middle">SJ/Rec pairs</text>
<circle cx="245.4" cy="1309.6" r="6.3" fill="#ff6a13"/>
<circle cx="345.3" cy="1282.2" r="6.3" fill="#ff6a13"/>
<circle cx="445.1" cy="1309.6" r="6.3" fill="#ff6a13"/>
<circle cx="544.7" cy="1309.6" r="6.3" fill="#ff6a13"/>
<circle cx="644.9" cy="1309.6" r="6.3" fill="#ff6a13"/>
<circle cx="745.0" cy="1309.3" r="6.3" fill="#ff6a13"/>
<circle cx="845.2" cy="1283.3" r="6.3" fill="#ff6a13"/>
<circle cx="945.4" cy="1309.3" r="6.3" fill="#ff6a13"/>
<circle cx="1045.5" cy="1309.3" r="6.3" fill="#ff6a13"/>
<circle cx="1144.9" cy="1309.3" r="6.3" fill="#ff6a13"/>
<circle cx="1245.0" cy="1271.3" r="6.3" fill="#ff6a13"/>
<circle cx="190.3" cy="1068.8" r="6.3" fill="#000"/>
<circle cx="190.3" cy="1214.9" r="6.3" fill="#000"/>
<circle cx="218.0" cy="1168.3" r="6.3" fill="#000"/>
<circle cx="218.0" cy="1302.5" r="6.3" fill="#000"/>
<circle cx="290.6" cy="853.2" r="6.3" fill="#000"/>
<circle cx="290.6" cy="1284.7" r="6.3" fill="#000"/>
<circle cx="317.9" cy="1202.3" r="6.3" fill="#000"/>
<circle cx="317.9" cy="1306.8" r="6.3" fill="#000"/>
<circle cx="390.8" cy="1148.0" r="6.3" fill="#000"/>
<circle cx="416.1" cy="1294.1" r="6.3" fill="#000"/>
<circle cx="420.6" cy="1301.8" r="6.3" fill="#000"/>
<circle cx="490.4" cy="1253.5" r="6.3" fill="#000"/>
<circle cx="490.4" cy="1303.9" r="6.3" fill="#000"/>
<circle cx="517.7" cy="1287.8" r="6.3" fill="#000"/>
<circle cx="517.7" cy="1306.4" r="6.3" fill="#000"/>
<circle cx="590.6" cy="1224.4" r="6.3" fill="#000"/>
<circle cx="588.9" cy="1285.7" r="6.3" fill="#000"/>
<circle cx="593.1" cy="1287.8" r="6.3" fill="#000"/>
<circle cx="617.6" cy="1309.9" r="6.3" fill="#000"/>
<circle cx="690.5" cy="833.0" r="6.3" fill="#000"/>
<circle cx="690.5" cy="896.7" r="6.3" fill="#000"/>
<circle cx="688.1" cy="1290.9" r="6.3" fill="#000"/>
<circle cx="693.3" cy="1293.3" r="6.3" fill="#000"/>
<circle cx="717.8" cy="1081.0" r="6.3" fill="#000"/>
<circle cx="717.8" cy="1240.8" r="6.3" fill="#000"/>
<circle cx="715.4" cy="1283.7" r="6.3" fill="#000"/>
<circle cx="720.2" cy="1288.9" r="6.3" fill="#000"/>
<circle cx="717.8" cy="1309.3" r="6.3" fill="#000"/>
<circle cx="790.7" cy="1133.9" r="6.3" fill="#000"/>
<circle cx="788.7" cy="1277.7" r="6.3" fill="#000"/>
<circle cx="793.1" cy="1293.7" r="6.3" fill="#000"/>
<circle cx="815.9" cy="1301.3" r="6.3" fill="#000"/>
<circle cx="820.4" cy="1309.3" r="6.3" fill="#000"/>
<circle cx="890.9" cy="949.6" r="6.3" fill="#000"/>
<circle cx="890.9" cy="1036.5" r="6.3" fill="#000"/>
<circle cx="890.9" cy="1210.0" r="6.3" fill="#000"/>
<circle cx="890.9" cy="1273.3" r="6.3" fill="#000"/>
<circle cx="890.9" cy="1290.9" r="6.3" fill="#000"/>
<circle cx="916.5" cy="1283.7" r="6.3" fill="#000"/>
<circle cx="918.1" cy="1296.9" r="6.3" fill="#000"/>
<circle cx="920.5" cy="1298.1" r="6.3" fill="#000"/>
<circle cx="991.0" cy="1067.8" r="6.3" fill="#000"/>
<circle cx="991.0" cy="1297.3" r="6.3" fill="#000"/>
<circle cx="1018.3" cy="1040.9" r="6.3" fill="#000"/>
<circle cx="1018.3" cy="1126.7" r="6.3" fill="#000"/>
<circle cx="1018.3" cy="1254.9" r="6.3" fill="#000"/>
<circle cx="1015.9" cy="1294.9" r="6.3" fill="#000"/>
<circle cx="1020.7" cy="1299.7" r="6.3" fill="#000"/>
<circle cx="1090.8" cy="1244.8" r="6.3" fill="#000"/>
<circle cx="1090.8" cy="1285.7" r="6.3" fill="#000"/>
<circle cx="1088.0" cy="1292.9" r="6.3" fill="#000"/>
<circle cx="1092.8" cy="1306.1" r="6.3" fill="#000"/>
<circle cx="1118.0" cy="1258.9" r="6.3" fill="#000"/>
<circle cx="1116.0" cy="1296.9" r="6.3" fill="#000"/>
<circle cx="1120.0" cy="1308.5" r="6.3" fill="#000"/>
<circle cx="1190.9" cy="907.9" r="6.3" fill="#000"/>
<circle cx="1190.9" cy="972.0" r="6.3" fill="#000"/>
<circle cx="1190.9" cy="1302.9" r="6.3" fill="#000"/>
<circle cx="1218.2" cy="1233.2" r="6.3" fill="#000"/>
<circle cx="1218.2" cy="1276.9" r="6.3" fill="#000"/>
<circle cx="1218.2" cy="1304.1" r="6.3" fill="#000"/>
<text transform="translate(1406.5 792.0) scale(1.1 1)" font-size="33.3" font-weight="bold" stroke="#000" stroke-width="0.9" stroke-linejoin="round">d</text>
<text x="1833.7" y="811.5" font-size="25" text-anchor="middle" textLength="379.5" lengthAdjust="spacingAndGlyphs">DNA repair (TARGET: phs000464)</text>
<text x="1833.7" y="854.8" font-size="25" text-anchor="middle" textLength="491.0" lengthAdjust="spacingAndGlyphs">Enrichment plot: HALLMARK_DNA_REPAIR</text>
<rect x="1499.4" y="1271.3" width="8.8" height="25.7" fill="#d40000"/>
<rect x="1507.9" y="1271.3" width="27.9" height="25.7" fill="#ea3f3f"/>
<rect x="1535.5" y="1271.3" width="47.2" height="25.7" fill="#fb5c5c"/>
<rect x="1582.4" y="1271.3" width="29.6" height="25.7" fill="#fc7080"/>
<rect x="1611.7" y="1271.3" width="37.4" height="25.7" fill="#fc8a8a"/>
<rect x="1648.8" y="1271.3" width="45.3" height="25.7" fill="#fcbfe2"/>
<rect x="1693.8" y="1271.3" width="53.6" height="25.7" fill="#d8d4fc"/>
<rect x="1747.1" y="1271.3" width="84.2" height="25.7" fill="#c5bffb"/>
<rect x="1831.0" y="1271.3" width="133.3" height="25.7" fill="#8b88fb"/>
<rect x="1964.0" y="1271.3" width="102.0" height="25.7" fill="#6d5ceb"/>
<rect x="2065.7" y="1271.3" width="44.9" height="25.7" fill="#2b00cd"/>
<rect x="2110.3" y="1271.3" width="26.8" height="25.7" fill="#4c00aa"/>
<rect x="1499.4" y="1174.8" width="5.4" height="96.2" fill="#000"/>
<rect x="1505.3" y="1174.8" width="5.5" height="96.2" fill="#000"/>
<rect x="1512.1" y="1174.8" width="4.5" height="96.2" fill="#000"/>
<rect x="1517.2" y="1174.8" width="2.6" height="96.2" fill="#000"/>
<rect x="1520.6" y="1174.8" width="3.1" height="96.2" fill="#000"/>
<rect x="1524.4" y="1174.8" width="3.4" height="96.2" fill="#000"/>
<rect x="1530.9" y="1174.8" width="4.2" height="96.2" fill="#000"/>
<rect x="1536.0" y="1174.8" width="8.5" height="96.2" fill="#000"/>
<rect x="1557.3" y="1174.8" width="1.3" height="96.2" fill="#000"/>
<rect x="1559.3" y="1174.8" width="1.5" height="96.2" fill="#000"/>
<rect x="1561.5" y="1174.8" width="4.3" height="96.2" fill="#000"/>
<rect x="1568.3" y="1174.8" width="8.9" height="96.2" fill="#000"/>
<rect x="1589.6" y="1174.8" width="2.6" height="96.2" fill="#000"/>
<rect x="1595.6" y="1174.8" width="2.2" height="96.2" fill="#000"/>
<rect x="1638.1" y="1174.8" width="1.7" height="96.2" fill="#000"/>
<rect x="1652.3" y="1174.8" width="1.7" height="96.2" fill="#000"/>
<rect x="1663.7" y="1174.8" width="4.2" height="96.2" fill="#000"/>
<rect x="1604.9" y="1174.8" width="1.0" height="96.2" fill="#000"/>
<rect x="1894.7" y="1174.8" width="1.6" height="96.2" fill="#000"/>
<line x1="1545.8" y1="1174.8" x2="1545.8" y2="1271.0" stroke="#000" stroke-width="1.5"/>
<line x1="1547.5" y1="1174.8" x2="1547.5" y2="1271.0" stroke="#000" stroke-width="1.5"/>
<line x1="1549.2" y1="1174.8" x2="1549.2" y2="1271.0" stroke="#000" stroke-width="1.5"/>
<line x1="1579.7" y1="1174.8" x2="1579.7" y2="1271.0" stroke="#000" stroke-width="1.5"/>
<line x1="1581.9" y1="1174.8" x2="1581.9" y2="1271.0" stroke="#000" stroke-width="1.5"/>
<line x1="1583.6" y1="1174.8" x2="1583.6" y2="1271.0" stroke="#000" stroke-width="1.5"/>
<line x1="1601.9" y1="1174.8" x2="1601.9" y2="1271.0" stroke="#000" stroke-width="1.5"/>
<line x1="1603.2" y1="1174.8" x2="1603.2" y2="1271.0" stroke="#000" stroke-width="1.5"/>
<line x1="1610.9" y1="1174.8" x2="1610.9" y2="1271.0" stroke="#000" stroke-width="1.5"/>
<line x1="1614.8" y1="1174.8" x2="1614.8" y2="1271.0" stroke="#000" stroke-width="1.5"/>
<line x1="1618.9" y1="1174.8" x2="1618.9" y2="1271.0" stroke="#000" stroke-width="1.5"/>
<line x1="1620.2" y1="1174.8" x2="1620.2" y2="1271.0" stroke="#000" stroke-width="1.5"/>
<line x1="1621.9" y1="1174.8" x2="1621.9" y2="1271.0" stroke="#000" stroke-width="1.5"/>
<line x1="1625.9" y1="1174.8" x2="1625.9" y2="1271.0" stroke="#000" stroke-width="1.5"/>
<line x1="1631.3" y1="1174.8" x2="1631.3" y2="1271.0" stroke="#000" stroke-width="1.5"/>
<line x1="1644.4" y1="1174.8" x2="1644.4" y2="1271.0" stroke="#000" stroke-width="1.5"/>
<line x1="1646.3" y1="1174.8" x2="1646.3" y2="1271.0" stroke="#000" stroke-width="1.5"/>
<line x1="1658.9" y1="1174.8" x2="1658.9" y2="1271.0" stroke="#000" stroke-width="1.5"/>
<line x1="1669.6" y1="1174.8" x2="1669.6" y2="1271.0" stroke="#000" stroke-width="1.5"/>
<line x1="1670.8" y1="1174.8" x2="1670.8" y2="1271.0" stroke="#000" stroke-width="1.5"/>
<line x1="1673.0" y1="1174.8" x2="1673.0" y2="1271.0" stroke="#000" stroke-width="1.5"/>
<line x1="1675.1" y1="1174.8" x2="1675.1" y2="1271.0" stroke="#000" stroke-width="1.5"/>
<line x1="1681.9" y1="1174.8" x2="1681.9" y2="1271.0" stroke="#000" stroke-width="1.5"/>
<line x1="1694.6" y1="1174.8" x2="1694.6" y2="1271.0" stroke="#000" stroke-width="1.5"/>
<line x1="1701.1" y1="1174.8" x2="1701.1" y2="1271.0" stroke="#000" stroke-width="1.5"/>
<line x1="1704.0" y1="1174.8" x2="1704.0" y2="1271.0" stroke="#000" stroke-width="1.5"/>
<line x1="1721.5" y1="1174.8" x2="1721.5" y2="1271.0" stroke="#000" stroke-width="1.5"/>
<line x1="1729.6" y1="1174.8" x2="1729.6" y2="1271.0" stroke="#000" stroke-width="1.5"/>
<line x1="1732.6" y1="1174.8" x2="1732.6" y2="1271.0" stroke="#000" stroke-width="1.5"/>
<line x1="1734.7" y1="1174.8" x2="1734.7" y2="1271.0" stroke="#000" stroke-width="1.5"/>
<line x1="1740.6" y1="1174.8" x2="1740.6" y2="1271.0" stroke="#000" stroke-width="1.5"/>
<line x1="1742.3" y1="1174.8" x2="1742.3" y2="1271.0" stroke="#000" stroke-width="1.5"/>
<line x1="1744.9" y1="1174.8" x2="1744.9" y2="1271.0" stroke="#000" stroke-width="1.5"/>
<line x1="1750.0" y1="1174.8" x2="1750.0" y2="1271.0" stroke="#000" stroke-width="1.5"/>
<line x1="1756.8" y1="1174.8" x2="1756.8" y2="1271.0" stroke="#000" stroke-width="1.5"/>
<line x1="1763.3" y1="1174.8" x2="1763.3" y2="1271.0" stroke="#000" stroke-width="1.5"/>
<line x1="1775.2" y1="1174.8" x2="1775.2" y2="1271.0" stroke="#000" stroke-width="1.5"/>
<line x1="1777.7" y1="1174.8" x2="1777.7" y2="1271.0" stroke="#000" stroke-width="1.5"/>
<line x1="1779.4" y1="1174.8" x2="1779.4" y2="1271.0" stroke="#000" stroke-width="1.5"/>
<line x1="1782.0" y1="1174.8" x2="1782.0" y2="1271.0" stroke="#000" stroke-width="1.5"/>
<line x1="1816.6" y1="1174.8" x2="1816.6" y2="1271.0" stroke="#000" stroke-width="1.5"/>
<line x1="1831.6" y1="1174.8" x2="1831.6" y2="1271.0" stroke="#000" stroke-width="1.5"/>
<line x1="1862.4" y1="1174.8" x2="1862.4" y2="1271.0" stroke="#000" stroke-width="1.5"/>
<line x1="1873.9" y1="1174.8" x2="1873.9" y2="1271.0" stroke="#000" stroke-width="1.5"/>
<line x1="1942.7" y1="1174.8" x2="1942.7" y2="1271.0" stroke="#000" stroke-width="1.5"/>
<line x1="2014.9" y1="1174.8" x2="2014.9" y2="1271.0" stroke="#000" stroke-width="1.5"/>
<line x1="2030.9" y1="1174.8" x2="2030.9" y2="1271.0" stroke="#000" stroke-width="1.5"/>
<line x1="2044.4" y1="1174.8" x2="2044.4" y2="1271.0" stroke="#000" stroke-width="1.5"/>
<line x1="2054.6" y1="1174.8" x2="2054.6" y2="1271.0" stroke="#000" stroke-width="1.5"/>
<line x1="2072.0" y1="1174.8" x2="2072.0" y2="1271.0" stroke="#000" stroke-width="1.5"/>
<line x1="2084.7" y1="1174.8" x2="2084.7" y2="1271.0" stroke="#000" stroke-width="1.5"/>
<line x1="2087.8" y1="1174.8" x2="2087.8" y2="1271.0" stroke="#000" stroke-width="1.5"/>
<line x1="2090.7" y1="1174.8" x2="2090.7" y2="1271.0" stroke="#000" stroke-width="1.5"/>
<line x1="2109.8" y1="1174.8" x2="2109.8" y2="1271.0" stroke="#000" stroke-width="1.5"/>
<line x1="2117.2" y1="1174.8" x2="2117.2" y2="1271.0" stroke="#000" stroke-width="1.5"/>
<line x1="1498.8" y1="1156.5" x2="2168.3" y2="1156.5" stroke="#777" stroke-width="1.1"/>
<line x1="1498.2" y1="870.0" x2="2168.3" y2="870.0" stroke="#111" stroke-width="1.3"/>
<line x1="1498.8" y1="870.0" x2="1498.8" y2="1170.8" stroke="#111" stroke-width="1.3"/>
<line x1="1498.8" y1="1170.8" x2="1498.8" y2="1297.0" stroke="#777" stroke-width="1.2"/>
<line x1="1498.8" y1="1170.8" x2="2168.3" y2="1170.8" stroke="#111" stroke-width="2"/>
<line x1="1498.8" y1="1271.3" x2="2168.3" y2="1271.3" stroke="#666" stroke-width="1.0"/>
<line x1="1498.8" y1="1297.0" x2="2168.3" y2="1297.0" stroke="#888" stroke-width="1.0"/>
<line x1="2168.3" y1="870.0" x2="2168.3" y2="1170.8" stroke="#111" stroke-width="1.4"/>
<line x1="2168.3" y1="1170.8" x2="2168.3" y2="1297.0" stroke="#999" stroke-width="1.0"/>
<line x1="1493.2" y1="899.3" x2="1498.8" y2="899.3" stroke="#111" stroke-width="1.4"/>
<text x="1482.8" y="908.3" font-size="25" text-anchor="end">0.6</text>
<line x1="1493.2" y1="942.2" x2="1498.8" y2="942.2" stroke="#111" stroke-width="1.4"/>
<text x="1482.8" y="951.2" font-size="25" text-anchor="end">0.5</text>
<line x1="1493.2" y1="985.1" x2="1498.8" y2="985.1" stroke="#111" stroke-width="1.4"/>
<text x="1482.8" y="994.1" font-size="25" text-anchor="end">0.4</text>
<line x1="1493.2" y1="1028.0" x2="1498.8" y2="1028.0" stroke="#111" stroke-width="1.4"/>
<text x="1482.8" y="1037.0" font-size="25" text-anchor="end">0.3</text>
<line x1="1493.2" y1="1070.6" x2="1498.8" y2="1070.6" stroke="#111" stroke-width="1.4"/>
<text x="1482.8" y="1079.6" font-size="25" text-anchor="end">0.2</text>
<line x1="1493.2" y1="1113.4" x2="1498.8" y2="1113.4" stroke="#111" stroke-width="1.4"/>
<text x="1482.8" y="1122.4" font-size="25" text-anchor="end">0.1</text>
<line x1="1493.2" y1="1156.3" x2="1498.8" y2="1156.3" stroke="#111" stroke-width="1.4"/>
<text x="1482.8" y="1165.3" font-size="25" text-anchor="end">0</text>
<text x="1427.5" y="1025.3" font-size="25" text-anchor="middle" transform="rotate(-90 1427.5 1025.3)">Enrichment score</text>
<text x="1964.8" y="949.8" font-size="25"><tspan font-style="italic">P</tspan> = 0.0095</text>
<text x="1833.7" y="1331.5" font-size="25" text-anchor="middle">Rank in ordered dataset</text>
<polyline points="1499.4,1157.8 1499.3,1155.8 1499.1,1153.7 1499.8,1151.7 1499.2,1149.6 1499.8,1147.6 1499.7,1145.6 1499.4,1143.5 1500.0,1141.5 1499.6,1139.4 1500.2,1137.4 1500.2,1135.3 1499.9,1133.1 1500.1,1131.0 1500.6,1128.9 1501.2,1126.8 1500.4,1124.6 1500.7,1122.5 1501.3,1120.4 1501.8,1118.3 1501.5,1116.2 1501.4,1114.0 1501.6,1111.9 1502.3,1109.8 1501.4,1107.6 1502.5,1105.5 1501.9,1103.3 1501.9,1101.2 1502.0,1099.0 1502.4,1096.9 1502.8,1094.8 1503.5,1092.6 1503.0,1090.2 1503.7,1088.0 1504.1,1085.8 1504.1,1083.4 1504.5,1081.2 1504.8,1078.9 1504.5,1076.6 1504.8,1074.3 1505.3,1072.1 1506.1,1069.9 1506.2,1067.6 1506.4,1065.4 1506.5,1063.2 1507.0,1061.1 1507.1,1058.9 1507.2,1056.6 1508.0,1054.5 1507.9,1052.3 1508.3,1050.1 1507.9,1047.9 1508.5,1045.7 1508.6,1043.6 1509.2,1041.4 1509.2,1039.2 1509.1,1037.0 1509.9,1034.9 1511.6,1033.3 1512.1,1031.0 1511.9,1028.8 1512.6,1026.7 1513.3,1024.6 1512.8,1022.4 1513.5,1020.3 1513.8,1018.2 1513.4,1016.0 1514.4,1014.0 1514.6,1011.9 1514.6,1009.7 1515.1,1007.6 1514.6,1005.4 1515.3,1003.3 1515.2,1001.2 1515.8,998.9 1516.3,996.5 1516.6,994.1 1517.2,991.8 1518.2,989.8 1518.8,987.7 1518.9,985.4 1519.7,983.4 1519.5,981.1 1520.6,979.1 1521.3,976.9 1521.6,974.6 1522.5,972.4 1522.7,970.1 1522.5,967.7 1523.2,965.5 1523.7,963.4 1524.8,961.4 1524.7,959.1 1525.9,957.2 1526.6,955.2 1528.7,954.4 1530.9,954.4 1531.0,952.2 1531.4,950.0 1532.7,948.1 1532.5,945.8 1533.1,943.7 1533.9,941.6 1534.9,939.8 1536.5,938.4 1536.8,936.2 1538.2,934.8 1539.4,933.1 1539.9,931.2 1540.8,929.3 1541.2,927.4 1541.8,925.4 1541.6,923.3 1542.2,921.4 1542.8,919.5 1544.2,917.9 1546.1,916.8 1547.6,915.4 1548.7,913.5 1551.0,914.0 1553.1,914.8 1555.3,915.8 1557.3,916.9 1558.3,914.9 1559.8,913.2 1561.2,911.5 1562.1,909.4 1563.1,907.4 1564.9,905.9 1567.1,905.8 1569.2,905.9 1570.3,903.7 1571.8,901.6 1573.5,899.7 1574.3,897.3 1575.3,895.2 1576.0,893.0 1576.8,890.9 1579.1,889.8 1581.4,888.6 1583.6,887.1 1585.8,887.5 1587.4,889.3 1589.6,889.7 1592.0,888.9 1594.3,887.8 1596.4,886.3 1598.4,886.8 1600.4,886.5 1602.4,886.8 1604.0,885.4 1605.8,884.2 1608.5,884.3 1610.9,885.4 1612.9,886.0 1615.1,885.7 1617.1,886.2 1619.1,886.7 1621.1,887.5 1623.2,888.0 1625.0,889.1 1627.0,889.7 1628.9,890.6 1630.7,891.6 1632.6,892.5 1634.4,893.7 1636.5,894.2 1638.1,895.6 1639.9,896.8 1641.9,897.4 1644.1,897.7 1646.0,898.6 1647.9,899.5 1649.8,900.3 1651.7,901.3 1653.9,901.9 1655.4,903.7 1657.3,904.9 1659.5,905.3 1661.5,906.4 1663.7,906.9 1665.4,908.4 1667.6,908.7 1669.5,909.8 1671.6,910.5 1673.4,911.9 1675.6,912.3 1677.7,913.1 1679.6,914.1 1680.9,916.2 1683.1,916.9 1685.2,917.6 1686.8,919.2 1689.0,919.8 1690.5,921.4 1692.1,923.1 1694.3,923.7 1695.8,925.1 1697.6,926.0 1699.6,926.7 1701.2,927.8 1703.0,928.7 1704.3,930.4 1706.2,931.2 1707.7,932.5 1709.7,933.1 1711.5,934.1 1712.8,935.7 1714.7,936.5 1716.1,938.1 1717.9,939.1 1719.6,940.2 1721.3,941.4 1723.1,942.4 1725.1,943.0 1726.7,944.5 1728.5,945.4 1730.1,946.7 1732.4,947.3 1734.5,948.4 1736.3,949.8 1738.4,950.9 1740.3,952.3 1743.7,952.3 1745.6,953.5 1747.4,954.8 1749.7,955.2 1751.4,956.8 1753.4,957.8 1755.6,958.3 1757.2,959.9 1759.4,960.4 1761.3,961.4 1763.2,962.5 1765.1,963.6 1766.9,964.7 1768.5,966.3 1770.2,967.7 1772.1,968.7 1774.2,969.5 1776.0,970.6 1778.2,971.3 1780.4,972.1 1782.8,972.3 1784.8,972.9 1786.1,974.6 1787.7,975.9 1789.5,976.8 1791.2,977.9 1793.1,978.7 1795.0,979.4 1796.5,980.8 1798.0,982.3 1800.0,983.1 1801.4,984.8 1803.0,986.2 1805.1,986.9 1806.8,988.1 1808.1,989.9 1809.9,990.9 1812.0,991.6 1813.8,992.8 1815.2,994.4 1818.6,994.4 1820.7,995.2 1822.2,997.1 1824.1,998.1 1826.4,998.6 1827.9,1000.4 1830.0,1001.2 1831.7,1003.3 1834.1,1004.6 1835.8,1005.9 1837.7,1006.8 1839.3,1008.2 1841.4,1009.0 1843.2,1010.1 1844.3,1012.2 1846.3,1013.1 1848.2,1014.2 1849.6,1015.8 1851.7,1016.5 1853.2,1018.1 1855.0,1019.2 1857.2,1019.8 1858.9,1021.1 1860.5,1022.5 1863.1,1021.6 1865.1,1022.8 1867.0,1024.1 1868.6,1025.8 1870.7,1026.8 1872.4,1028.4 1875.0,1027.6 1876.8,1028.7 1878.7,1029.6 1879.8,1031.5 1881.9,1032.1 1883.5,1033.4 1885.1,1034.7 1886.6,1036.1 1888.7,1036.8 1890.0,1038.5 1892.0,1039.2 1893.7,1040.4 1896.3,1038.7 1898.0,1039.9 1899.7,1041.0 1901.7,1041.7 1903.1,1043.2 1905.0,1044.1 1906.8,1045.1 1908.0,1047.0 1910.1,1047.5 1911.6,1049.0 1913.1,1050.4 1915.0,1051.4 1916.8,1052.3 1918.4,1053.6 1920.1,1054.8 1921.6,1056.2 1923.8,1056.6 1925.2,1058.2 1927.1,1059.1 1928.7,1060.3 1930.1,1061.9 1932.0,1062.8 1933.7,1064.0 1935.2,1065.3 1936.8,1066.6 1938.8,1067.3 1940.5,1068.5 1943.4,1067.6 1945.0,1068.8 1946.7,1069.9 1948.4,1071.0 1949.9,1072.3 1951.7,1073.2 1953.3,1074.4 1955.0,1075.5 1956.3,1077.1 1958.2,1078.0 1959.7,1079.3 1961.3,1080.5 1963.4,1081.0 1964.9,1082.4 1966.3,1083.9 1968.0,1085.0 1970.1,1085.4 1971.8,1086.5 1973.2,1088.0 1975.1,1088.8 1976.7,1090.1 1978.4,1091.0 1979.7,1092.8 1981.3,1094.0 1982.8,1095.2 1985.0,1095.7 1986.3,1097.3 1988.0,1098.4 1990.0,1099.0 1991.1,1100.9 1992.7,1102.1 1994.9,1102.5 1996.0,1104.4 1998.1,1105.0 1999.7,1106.2 2001.0,1107.8 2002.7,1108.8 2004.9,1109.3 2006.3,1110.7 2007.9,1111.9 2009.7,1112.9 2011.5,1113.9 2012.9,1115.3 2015.4,1113.6 2017.3,1114.6 2018.9,1116.1 2021.1,1116.6 2022.6,1118.3 2024.5,1119.4 2026.6,1120.1 2028.2,1121.6 2029.9,1122.9 2032.5,1121.2 2034.3,1122.6 2036.2,1123.7 2038.3,1124.5 2039.5,1126.6 2041.5,1127.7 2043.5,1128.6 2045.2,1126.9 2046.6,1128.5 2048.9,1128.7 2050.5,1129.9 2052.3,1130.8 2053.7,1132.3 2056.3,1130.6 2057.9,1132.1 2060.1,1132.9 2062.0,1134.1 2063.6,1135.6 2065.1,1137.4 2067.0,1138.6 2069.2,1139.3 2070.8,1140.8 2072.5,1139.1 2074.4,1139.8 2075.6,1141.7 2077.6,1142.5 2079.2,1143.7 2081.3,1144.2 2083.0,1145.3 2084.4,1146.8 2085.9,1145.1 2087.0,1143.0 2088.1,1140.9 2090.3,1139.6 2091.2,1137.4 2092.8,1138.6 2094.4,1139.9 2096.6,1140.3 2097.8,1142.2 2100.0,1142.5 2101.2,1144.4 2103.1,1145.1 2104.9,1146.1 2106.5,1147.4 2108.2,1148.5 2109.9,1147.1 2110.8,1145.1 2112.9,1146.0 2115.0,1147.0 2116.7,1148.5 2117.6,1146.4 2118.4,1144.2 2120.4,1145.1 2122.2,1146.1 2124.0,1147.4 2125.8,1148.4 2127.5,1149.7 2129.2,1151.0 2131.0,1152.1 2132.5,1153.8 2134.6,1154.5 2136.2,1155.8 2138.0,1157.0" fill="none" stroke="#00ff00" stroke-width="5" stroke-linejoin="miter" stroke-miterlimit="3" stroke-linecap="butt"/>
<text transform="translate(1406.5 1427.0) scale(1.1 1)" font-size="33.3" font-weight="bold" stroke="#000" stroke-width="0.9" stroke-linejoin="round">f</text>
<text x="1831.4" y="1437.6" font-size="25" text-anchor="middle" textLength="364.5" lengthAdjust="spacingAndGlyphs">DNA repair (EGAS00001006863)</text>
<text x="1831.2" y="1482.0" font-size="25" text-anchor="middle" textLength="491.0" lengthAdjust="spacingAndGlyphs">Enrichment plot: HALLMARK_DNA_REPAIR</text>
<rect x="1496.0" y="1897.3" width="2.0" height="25.3" fill="#d40000"/>
<rect x="1497.7" y="1897.3" width="33.5" height="25.3" fill="#ea3f3f"/>
<rect x="1530.9" y="1897.3" width="109.2" height="25.3" fill="#fb5c5c"/>
<rect x="1639.8" y="1897.3" width="63.3" height="25.3" fill="#fc7080"/>
<rect x="1702.8" y="1897.3" width="59.4" height="25.3" fill="#fc8a8a"/>
<rect x="1761.9" y="1897.3" width="62.4" height="25.3" fill="#fcbfe2"/>
<rect x="1824.0" y="1897.3" width="66.1" height="25.3" fill="#d8d4fc"/>
<rect x="1889.8" y="1897.3" width="59.2" height="25.3" fill="#c5bffb"/>
<rect x="1948.7" y="1897.3" width="62.4" height="25.3" fill="#8b88fb"/>
<rect x="2010.8" y="1897.3" width="99.4" height="25.3" fill="#6d5ceb"/>
<rect x="2109.9" y="1897.3" width="16.5" height="25.3" fill="#2b00cd"/>
<rect x="2126.1" y="1897.3" width="2.0" height="25.3" fill="#4c00aa"/>
<rect x="2127.8" y="1897.3" width="2.0" height="25.3" fill="#a060b0"/>
<rect x="2129.5" y="1897.3" width="5.8" height="25.3" fill="#4c00aa"/>
<rect x="1496.5" y="1800.8" width="8.5" height="96.2" fill="#000"/>
<rect x="1510.1" y="1800.8" width="6.8" height="96.2" fill="#000"/>
<rect x="1522.3" y="1800.8" width="7.7" height="96.2" fill="#000"/>
<rect x="1531.7" y="1800.8" width="2.9" height="96.2" fill="#000"/>
<rect x="1536.8" y="1800.8" width="3.4" height="96.2" fill="#000"/>
<rect x="1546.2" y="1800.8" width="2.5" height="96.2" fill="#000"/>
<rect x="1549.4" y="1800.8" width="2.2" height="96.2" fill="#000"/>
<rect x="1552.3" y="1800.8" width="2.1" height="96.2" fill="#000"/>
<rect x="1557.3" y="1800.8" width="6.3" height="96.2" fill="#000"/>
<rect x="1573.1" y="1800.8" width="3.7" height="96.2" fill="#000"/>
<rect x="1578.5" y="1800.8" width="9.4" height="96.2" fill="#000"/>
<rect x="1589.1" y="1800.8" width="3.9" height="96.2" fill="#000"/>
<rect x="1601.0" y="1800.8" width="4.8" height="96.2" fill="#000"/>
<rect x="1642.0" y="1800.8" width="3.8" height="96.2" fill="#000"/>
<rect x="1667.4" y="1800.8" width="6.1" height="96.2" fill="#000"/>
<rect x="1692.6" y="1800.8" width="5.5" height="96.2" fill="#000"/>
<rect x="1874.1" y="1800.8" width="1.7" height="96.2" fill="#000"/>
<line x1="1506.7" y1="1800.8" x2="1506.7" y2="1897.0" stroke="#000" stroke-width="1.5"/>
<line x1="1518.9" y1="1800.8" x2="1518.9" y2="1897.0" stroke="#000" stroke-width="1.5"/>
<line x1="1541.9" y1="1800.8" x2="1541.9" y2="1897.0" stroke="#000" stroke-width="1.5"/>
<line x1="1569.2" y1="1800.8" x2="1569.2" y2="1897.0" stroke="#000" stroke-width="1.5"/>
<line x1="1597.8" y1="1800.8" x2="1597.8" y2="1897.0" stroke="#000" stroke-width="1.5"/>
<line x1="1607.5" y1="1800.8" x2="1607.5" y2="1897.0" stroke="#000" stroke-width="1.5"/>
<line x1="1609.2" y1="1800.8" x2="1609.2" y2="1897.0" stroke="#000" stroke-width="1.5"/>
<line x1="1611.2" y1="1800.8" x2="1611.2" y2="1897.0" stroke="#000" stroke-width="1.5"/>
<line x1="1612.9" y1="1800.8" x2="1612.9" y2="1897.0" stroke="#000" stroke-width="1.5"/>
<line x1="1618.0" y1="1800.8" x2="1618.0" y2="1897.0" stroke="#000" stroke-width="1.5"/>
<line x1="1631.7" y1="1800.8" x2="1631.7" y2="1897.0" stroke="#000" stroke-width="1.5"/>
<line x1="1637.3" y1="1800.8" x2="1637.3" y2="1897.0" stroke="#000" stroke-width="1.5"/>
<line x1="1648.7" y1="1800.8" x2="1648.7" y2="1897.0" stroke="#000" stroke-width="1.5"/>
<line x1="1650.4" y1="1800.8" x2="1650.4" y2="1897.0" stroke="#000" stroke-width="1.5"/>
<line x1="1652.1" y1="1800.8" x2="1652.1" y2="1897.0" stroke="#000" stroke-width="1.5"/>
<line x1="1655.1" y1="1800.8" x2="1655.1" y2="1897.0" stroke="#000" stroke-width="1.5"/>
<line x1="1663.7" y1="1800.8" x2="1663.7" y2="1897.0" stroke="#000" stroke-width="1.5"/>
<line x1="1684.4" y1="1800.8" x2="1684.4" y2="1897.0" stroke="#000" stroke-width="1.5"/>
<line x1="1690.6" y1="1800.8" x2="1690.6" y2="1897.0" stroke="#000" stroke-width="1.5"/>
<line x1="1704.2" y1="1800.8" x2="1704.2" y2="1897.0" stroke="#000" stroke-width="1.5"/>
<line x1="1713.0" y1="1800.8" x2="1713.0" y2="1897.0" stroke="#000" stroke-width="1.5"/>
<line x1="1723.3" y1="1800.8" x2="1723.3" y2="1897.0" stroke="#000" stroke-width="1.5"/>
<line x1="1727.5" y1="1800.8" x2="1727.5" y2="1897.0" stroke="#000" stroke-width="1.5"/>
<line x1="1734.8" y1="1800.8" x2="1734.8" y2="1897.0" stroke="#000" stroke-width="1.5"/>
<line x1="1752.2" y1="1800.8" x2="1752.2" y2="1897.0" stroke="#000" stroke-width="1.5"/>
<line x1="1761.9" y1="1800.8" x2="1761.9" y2="1897.0" stroke="#000" stroke-width="1.5"/>
<line x1="1765.8" y1="1800.8" x2="1765.8" y2="1897.0" stroke="#000" stroke-width="1.5"/>
<line x1="1776.4" y1="1800.8" x2="1776.4" y2="1897.0" stroke="#000" stroke-width="1.5"/>
<line x1="1778.6" y1="1800.8" x2="1778.6" y2="1897.0" stroke="#000" stroke-width="1.5"/>
<line x1="1783.2" y1="1800.8" x2="1783.2" y2="1897.0" stroke="#000" stroke-width="1.5"/>
<line x1="1793.9" y1="1800.8" x2="1793.9" y2="1897.0" stroke="#000" stroke-width="1.5"/>
<line x1="1801.2" y1="1800.8" x2="1801.2" y2="1897.0" stroke="#000" stroke-width="1.5"/>
<line x1="1807.0" y1="1800.8" x2="1807.0" y2="1897.0" stroke="#000" stroke-width="1.5"/>
<line x1="1816.0" y1="1800.8" x2="1816.0" y2="1897.0" stroke="#000" stroke-width="1.5"/>
<line x1="1820.8" y1="1800.8" x2="1820.8" y2="1897.0" stroke="#000" stroke-width="1.5"/>
<line x1="1824.0" y1="1800.8" x2="1824.0" y2="1897.0" stroke="#000" stroke-width="1.5"/>
<line x1="1829.7" y1="1800.8" x2="1829.7" y2="1897.0" stroke="#000" stroke-width="1.5"/>
<line x1="1837.9" y1="1800.8" x2="1837.9" y2="1897.0" stroke="#000" stroke-width="1.5"/>
<line x1="1847.4" y1="1800.8" x2="1847.4" y2="1897.0" stroke="#000" stroke-width="1.5"/>
<line x1="1864.4" y1="1800.8" x2="1864.4" y2="1897.0" stroke="#000" stroke-width="1.5"/>
<line x1="1896.1" y1="1800.8" x2="1896.1" y2="1897.0" stroke="#000" stroke-width="1.5"/>
<line x1="1919.4" y1="1800.8" x2="1919.4" y2="1897.0" stroke="#000" stroke-width="1.5"/>
<line x1="1944.8" y1="1800.8" x2="1944.8" y2="1897.0" stroke="#000" stroke-width="1.5"/>
<line x1="1955.0" y1="1800.8" x2="1955.0" y2="1897.0" stroke="#000" stroke-width="1.5"/>
<line x1="1969.1" y1="1800.8" x2="1969.1" y2="1897.0" stroke="#000" stroke-width="1.5"/>
<line x1="2020.7" y1="1800.8" x2="2020.7" y2="1897.0" stroke="#000" stroke-width="1.5"/>
<line x1="2059.4" y1="1800.8" x2="2059.4" y2="1897.0" stroke="#000" stroke-width="1.5"/>
<line x1="2079.6" y1="1800.8" x2="2079.6" y2="1897.0" stroke="#000" stroke-width="1.5"/>
<line x1="2083.5" y1="1800.8" x2="2083.5" y2="1897.0" stroke="#000" stroke-width="1.5"/>
<line x1="1495.4" y1="1782.5" x2="2167.2" y2="1782.5" stroke="#777" stroke-width="1.1"/>
<line x1="1494.8" y1="1495.3" x2="2167.2" y2="1495.3" stroke="#111" stroke-width="1.3"/>
<line x1="1495.4" y1="1495.3" x2="1495.4" y2="1796.8" stroke="#111" stroke-width="1.3"/>
<line x1="1495.4" y1="1796.8" x2="1495.4" y2="1922.6" stroke="#777" stroke-width="1.2"/>
<line x1="1495.4" y1="1796.8" x2="2167.2" y2="1796.8" stroke="#111" stroke-width="2"/>
<line x1="1495.4" y1="1897.3" x2="2167.2" y2="1897.3" stroke="#666" stroke-width="1.0"/>
<line x1="1495.4" y1="1922.6" x2="2167.2" y2="1922.6" stroke="#888" stroke-width="1.0"/>
<line x1="2167.2" y1="1495.3" x2="2167.2" y2="1796.8" stroke="#111" stroke-width="1.4"/>
<line x1="2167.2" y1="1796.8" x2="2167.2" y2="1922.6" stroke="#999" stroke-width="1.0"/>
<line x1="1489.7" y1="1521.5" x2="1495.4" y2="1521.5" stroke="#111" stroke-width="1.4"/>
<text x="1478.9" y="1530.5" font-size="25" text-anchor="end">0.6</text>
<line x1="1489.7" y1="1564.9" x2="1495.4" y2="1564.9" stroke="#111" stroke-width="1.4"/>
<text x="1478.9" y="1573.9" font-size="25" text-anchor="end">0.5</text>
<line x1="1489.7" y1="1608.3" x2="1495.4" y2="1608.3" stroke="#111" stroke-width="1.4"/>
<text x="1478.9" y="1617.3" font-size="25" text-anchor="end">0.4</text>
<line x1="1489.7" y1="1651.7" x2="1495.4" y2="1651.7" stroke="#111" stroke-width="1.4"/>
<text x="1478.9" y="1660.7" font-size="25" text-anchor="end">0.3</text>
<line x1="1489.7" y1="1695.3" x2="1495.4" y2="1695.3" stroke="#111" stroke-width="1.4"/>
<text x="1478.9" y="1704.3" font-size="25" text-anchor="end">0.2</text>
<line x1="1489.7" y1="1738.9" x2="1495.4" y2="1738.9" stroke="#111" stroke-width="1.4"/>
<text x="1478.9" y="1747.9" font-size="25" text-anchor="end">0.1</text>
<line x1="1489.7" y1="1782.4" x2="1495.4" y2="1782.4" stroke="#111" stroke-width="1.4"/>
<text x="1478.9" y="1791.4" font-size="25" text-anchor="end">0</text>
<text x="1427.5" y="1648.8" font-size="25" text-anchor="middle" transform="rotate(-90 1427.5 1648.8)">Enrichment score</text>
<text x="1928.2" y="1573.8" font-size="25"><tspan font-style="italic">P</tspan> = 0.000</text>
<text x="1831.8" y="1949.0" font-size="25" text-anchor="middle">Rank in ordered dataset</text>
<polyline points="1496.0,1782.8 1496.0,1780.7 1495.9,1778.7 1496.7,1776.7 1496.2,1774.6 1496.9,1772.6 1496.9,1770.5 1496.7,1768.5 1497.4,1766.5 1497.0,1764.4 1497.7,1762.4 1497.9,1760.3 1497.8,1758.1 1498.2,1756.0 1498.9,1753.9 1499.7,1751.8 1499.1,1749.6 1499.6,1747.5 1500.2,1745.4 1500.7,1743.3 1501.4,1741.2 1501.3,1739.0 1501.4,1736.9 1502.4,1734.9 1501.6,1732.6 1502.9,1730.6 1502.8,1728.4 1502.8,1726.1 1502.9,1723.8 1503.2,1721.5 1503.7,1719.2 1504.6,1717.0 1504.5,1714.7 1506.0,1713.1 1507.9,1712.2 1510.1,1711.0 1512.1,1709.6 1512.6,1707.6 1512.6,1705.5 1513.2,1703.5 1512.9,1701.4 1513.8,1699.4 1513.4,1697.1 1513.7,1694.8 1514.5,1692.6 1514.3,1690.3 1514.3,1688.1 1514.7,1685.8 1515.0,1683.7 1514.9,1681.5 1514.9,1679.4 1515.7,1677.3 1515.7,1675.2 1515.3,1673.0 1515.8,1670.9 1515.9,1668.8 1516.7,1666.5 1517.8,1664.4 1518.1,1662.0 1518.6,1659.9 1518.3,1657.7 1519.3,1655.6 1518.5,1653.4 1519.1,1651.3 1519.7,1649.2 1519.2,1647.0 1519.8,1644.9 1523.2,1644.1 1523.8,1642.0 1523.8,1639.7 1525.1,1637.8 1525.8,1635.6 1526.1,1633.5 1526.6,1631.3 1527.7,1629.4 1527.7,1627.1 1528.9,1625.3 1529.4,1623.2 1530.0,1621.1 1532.6,1621.9 1533.0,1619.8 1533.2,1617.7 1534.0,1615.6 1534.5,1613.5 1534.2,1611.3 1534.6,1609.2 1536.6,1608.5 1538.5,1607.5 1538.6,1605.1 1539.9,1603.0 1540.2,1600.7 1541.5,1598.8 1543.0,1597.0 1543.6,1594.7 1546.1,1595.5 1548.7,1595.6 1549.1,1593.4 1549.9,1591.3 1550.8,1589.2 1551.3,1587.0 1551.6,1584.7 1553.0,1582.7 1553.5,1580.5 1554.7,1578.5 1557.3,1578.5 1557.4,1576.4 1557.8,1574.3 1559.1,1572.5 1558.9,1570.2 1559.8,1568.3 1560.2,1566.0 1561.0,1563.9 1562.3,1561.8 1562.0,1559.4 1563.2,1557.3 1565.8,1558.1 1568.3,1559.0 1570.9,1558.6 1573.4,1558.1 1574.9,1556.7 1576.0,1554.9 1576.8,1553.0 1579.1,1552.6 1581.1,1551.3 1581.5,1549.0 1582.4,1546.8 1583.0,1544.6 1584.3,1542.6 1584.5,1540.2 1586.1,1538.8 1586.4,1536.6 1587.9,1535.1 1588.6,1532.8 1589.8,1530.7 1590.8,1528.6 1592.2,1526.6 1594.3,1528.3 1596.4,1530.0 1599.0,1530.1 1601.5,1530.0 1601.8,1527.4 1602.1,1524.7 1603.2,1522.3 1605.3,1520.5 1607.5,1518.9 1610.0,1517.9 1612.6,1517.2 1614.8,1515.6 1616.8,1513.8 1618.6,1512.0 1619.4,1509.6 1621.0,1510.9 1622.8,1511.9 1624.5,1513.0 1626.7,1514.4 1628.9,1515.8 1631.3,1516.9 1633.4,1516.8 1635.2,1518.2 1637.3,1518.1 1639.7,1517.3 1642.0,1516.2 1644.1,1514.7 1646.7,1514.5 1649.1,1513.4 1651.7,1513.0 1653.7,1513.1 1655.8,1513.1 1657.7,1513.8 1659.6,1514.9 1661.8,1515.2 1663.7,1516.2 1665.4,1517.6 1667.8,1516.5 1670.3,1515.6 1673.0,1515.2 1675.1,1516.3 1677.3,1517.2 1679.0,1518.9 1681.2,1519.2 1683.1,1520.3 1684.9,1521.5 1687.3,1521.6 1689.5,1522.5 1691.8,1523.2 1693.1,1520.8 1695.5,1519.5 1696.9,1517.2 1698.7,1518.2 1700.9,1518.5 1702.7,1519.5 1704.5,1520.6 1706.6,1521.6 1708.7,1522.9 1710.8,1523.8 1712.4,1525.8 1714.7,1526.6 1716.5,1528.4 1719.0,1529.1 1721.2,1530.4 1723.3,1531.7 1725.6,1532.0 1727.7,1532.7 1729.7,1533.7 1731.8,1534.6 1734.0,1535.5 1735.7,1537.2 1738.1,1537.6 1740.2,1538.6 1742.0,1540.2 1743.4,1541.9 1745.4,1542.8 1747.4,1543.7 1748.8,1545.4 1750.8,1546.2 1752.2,1547.9 1754.2,1549.1 1756.0,1550.8 1758.1,1551.8 1760.2,1552.8 1762.4,1553.8 1764.4,1554.6 1766.3,1555.7 1768.3,1556.6 1769.8,1558.3 1771.8,1559.1 1773.6,1560.4 1775.7,1560.9 1777.7,1561.9 1779.4,1563.2 1781.1,1564.7 1782.9,1566.0 1784.9,1567.0 1786.8,1568.0 1788.7,1569.2 1790.7,1570.2 1792.9,1570.9 1794.6,1572.3 1796.5,1573.4 1798.3,1574.4 1800.2,1575.1 1801.9,1576.3 1803.4,1577.6 1805.2,1578.7 1806.6,1580.3 1808.1,1581.6 1810.1,1582.2 1811.5,1583.8 1813.5,1584.5 1815.0,1586.1 1816.9,1587.2 1819.1,1587.8 1821.0,1588.7 1822.8,1589.9 1824.7,1591.0 1826.5,1592.1 1828.1,1593.7 1830.0,1594.7 1831.4,1596.3 1833.1,1597.4 1835.0,1598.2 1836.6,1599.6 1838.1,1600.9 1840.3,1601.4 1841.5,1603.1 1843.0,1604.5 1844.8,1605.6 1846.5,1606.8 1848.3,1607.7 1850.2,1608.6 1851.4,1610.3 1853.4,1611.1 1854.8,1612.7 1856.3,1614.1 1858.4,1614.7 1860.0,1615.9 1861.3,1617.6 1863.2,1618.5 1865.2,1619.2 1866.9,1620.3 1868.5,1621.5 1869.7,1623.4 1871.4,1624.5 1873.3,1625.4 1876.7,1624.5 1878.6,1625.5 1879.7,1627.4 1881.2,1628.9 1883.1,1629.9 1884.9,1631.0 1886.4,1632.5 1888.3,1633.4 1890.0,1634.6 1890.9,1636.8 1892.8,1637.8 1894.5,1639.0 1897.1,1638.1 1898.8,1639.4 1900.2,1641.0 1902.2,1641.8 1903.6,1643.4 1905.4,1644.6 1907.5,1645.3 1909.2,1646.6 1910.8,1647.9 1912.6,1649.1 1914.0,1650.6 1916.0,1651.6 1917.6,1653.0 1919.2,1654.3 1921.8,1653.1 1923.8,1654.0 1924.9,1656.0 1927.0,1656.8 1928.6,1658.1 1930.2,1659.5 1931.7,1661.1 1933.8,1661.9 1935.1,1663.7 1937.1,1664.5 1938.8,1665.8 1940.5,1667.1 1942.5,1667.9 1943.9,1669.6 1946.5,1668.4 1948.4,1669.9 1950.5,1671.3 1952.6,1672.7 1954.1,1674.7 1956.7,1673.5 1958.0,1675.2 1960.1,1676.0 1961.5,1677.6 1962.9,1679.2 1964.6,1680.5 1966.4,1681.7 1967.8,1683.2 1970.3,1682.0 1971.9,1683.2 1973.6,1684.4 1975.0,1685.8 1977.2,1686.3 1978.5,1687.9 1980.4,1688.8 1982.0,1690.0 1983.3,1691.7 1985.1,1692.6 1986.7,1693.8 1988.2,1695.2 1989.8,1696.5 1991.7,1697.2 1993.3,1698.6 1995.0,1699.7 1996.6,1700.8 1998.2,1702.2 2000.0,1703.1 2001.6,1704.4 2003.2,1705.5 2004.6,1707.1 2006.4,1708.1 2007.9,1709.4 2009.5,1710.7 2011.6,1711.2 2013.1,1712.7 2014.5,1714.2 2016.2,1715.3 2018.3,1715.8 2019.7,1717.3 2022.2,1715.6 2024.2,1716.4 2025.6,1718.0 2027.6,1718.8 2029.2,1720.2 2031.0,1721.3 2032.3,1723.1 2033.9,1724.4 2035.6,1725.7 2037.8,1726.2 2039.1,1728.0 2040.8,1729.1 2042.9,1729.8 2044.1,1731.8 2045.7,1733.1 2048.0,1733.5 2049.2,1735.5 2051.3,1736.1 2052.9,1737.4 2054.2,1739.2 2056.1,1740.2 2058.0,1741.1 2060.5,1738.9 2062.4,1739.8 2064.0,1741.3 2065.6,1742.5 2067.4,1743.6 2069.3,1744.6 2070.9,1746.0 2072.3,1747.6 2074.5,1748.1 2075.8,1749.8 2077.6,1750.9 2079.3,1752.2 2080.6,1750.3 2082.6,1749.2 2084.4,1747.9 2087.8,1749.6 2089.4,1750.9 2091.1,1751.9 2093.1,1752.6 2094.2,1754.7 2096.0,1755.6 2097.5,1756.9 2099.8,1757.2 2101.3,1758.5 2103.2,1759.4 2104.3,1761.3 2106.4,1762.0 2108.1,1763.0 2109.6,1764.4 2110.9,1766.0 2112.7,1767.1 2114.7,1767.7 2116.5,1768.7 2117.6,1770.6 2119.5,1771.4 2121.1,1772.7 2123.2,1773.2 2124.9,1774.3 2126.1,1776.1 2128.0,1777.0 2129.9,1777.8 2131.0,1779.8 2132.9,1780.6 2134.4,1782.0 2136.3,1782.8" fill="none" stroke="#00ff00" stroke-width="5" stroke-linejoin="miter" stroke-miterlimit="3" stroke-linecap="butt"/>
<text transform="translate(52.6 1525.8) scale(1.1 1)" font-size="33.3" font-weight="bold" stroke="#000" stroke-width="0.9" stroke-linejoin="round">e</text>
<text x="271.9" y="1536.6" font-size="25" text-anchor="middle" font-style="italic">PCNA</text>
<rect x="213.2" y="1782.2" width="29.4" height="100.4" fill="#9b0000" stroke="#000" stroke-width="1.5"/>
<rect x="258.5" y="1849.9" width="29.0" height="32.7" fill="#ffffff" stroke="#000" stroke-width="1.5"/>
<rect x="303.5" y="1847.5" width="29.4" height="35.1" fill="#4d9cf0" stroke="#000" stroke-width="1.5"/>
<line x1="182.0" y1="1581.9" x2="182.0" y2="1882.6" stroke="#000" stroke-width="1.5"/>
<line x1="173.8" y1="1882.6" x2="363.0" y2="1882.6" stroke="#000" stroke-width="1.5"/>
<line x1="173.8" y1="1581.9" x2="182.0" y2="1581.9" stroke="#000" stroke-width="1.5"/>
<text x="161.6" y="1590.9" font-size="25" text-anchor="end">5</text>
<line x1="173.8" y1="1642.0" x2="182.0" y2="1642.0" stroke="#000" stroke-width="1.5"/>
<text x="161.6" y="1651.0" font-size="25" text-anchor="end">4</text>
<line x1="173.8" y1="1702.1" x2="182.0" y2="1702.1" stroke="#000" stroke-width="1.5"/>
<text x="161.6" y="1711.1" font-size="25" text-anchor="end">3</text>
<line x1="173.8" y1="1762.3" x2="182.0" y2="1762.3" stroke="#000" stroke-width="1.5"/>
<text x="161.6" y="1771.3" font-size="25" text-anchor="end">2</text>
<line x1="173.8" y1="1822.4" x2="182.0" y2="1822.4" stroke="#000" stroke-width="1.5"/>
<text x="161.6" y="1831.4" font-size="25" text-anchor="end">1</text>
<line x1="173.8" y1="1882.6" x2="182.0" y2="1882.6" stroke="#000" stroke-width="1.5"/>
<text x="161.6" y="1891.6" font-size="25" text-anchor="end">0</text>
<text x="124.6" y="1731.8" font-size="25" text-anchor="middle" transform="rotate(-90 124.6 1731.8)">Relative expression</text>
<line x1="226.9" y1="1882.6" x2="226.9" y2="1891.1" stroke="#000" stroke-width="1.5"/>
<text x="233.2" y="1912.2" font-size="25" text-anchor="end" transform="rotate(-45 233.2 1912.2)" letter-spacing="0.3">H-relapse</text>
<line x1="272.2" y1="1882.6" x2="272.2" y2="1891.1" stroke="#000" stroke-width="1.5"/>
<text x="278.5" y="1912.2" font-size="25" text-anchor="end" transform="rotate(-45 278.5 1912.2)" letter-spacing="0.3">L-relapse</text>
<line x1="317.5" y1="1882.6" x2="317.5" y2="1891.1" stroke="#000" stroke-width="1.5"/>
<text x="323.8" y="1912.2" font-size="25" text-anchor="end" transform="rotate(-45 323.8 1912.2)" letter-spacing="0.3">Non-relapse</text>
<line x1="226.9" y1="1697.7" x2="226.9" y2="1865.9" stroke="#000" stroke-width="1.5"/>
<line x1="219.3" y1="1697.7" x2="234.5" y2="1697.7" stroke="#000" stroke-width="1.5"/>
<line x1="219.3" y1="1865.9" x2="234.5" y2="1865.9" stroke="#000" stroke-width="1.5"/>
<line x1="272.2" y1="1829.8" x2="272.2" y2="1869.7" stroke="#000" stroke-width="1.5"/>
<line x1="264.6" y1="1829.8" x2="279.8" y2="1829.8" stroke="#000" stroke-width="1.5"/>
<line x1="264.6" y1="1869.7" x2="279.8" y2="1869.7" stroke="#000" stroke-width="1.5"/>
<line x1="317.5" y1="1821.3" x2="317.5" y2="1873.1" stroke="#000" stroke-width="1.5"/>
<line x1="309.9" y1="1821.3" x2="325.1" y2="1821.3" stroke="#000" stroke-width="1.5"/>
<line x1="309.9" y1="1873.1" x2="325.1" y2="1873.1" stroke="#000" stroke-width="1.5"/>
<circle cx="227.3" cy="1603.4" r="3.3" fill="#000"/>
<circle cx="227.3" cy="1639.1" r="3.3" fill="#000"/>
<circle cx="227.3" cy="1766.8" r="3.3" fill="#000"/>
<circle cx="219.8" cy="1793.1" r="3.3" fill="#000"/>
<circle cx="234.8" cy="1793.1" r="3.3" fill="#000"/>
<circle cx="227.3" cy="1812.8" r="3.3" fill="#000"/>
<circle cx="219.8" cy="1818.6" r="3.3" fill="#000"/>
<circle cx="234.8" cy="1825.4" r="3.3" fill="#000"/>
<circle cx="227.3" cy="1842.4" r="3.3" fill="#000"/>
<circle cx="219.8" cy="1850.9" r="3.3" fill="#000"/>
<circle cx="234.8" cy="1854.3" r="3.3" fill="#000"/>
<circle cx="272.6" cy="1807.4" r="3.3" fill="#000"/>
<circle cx="272.6" cy="1839.0" r="3.3" fill="#000"/>
<circle cx="265.4" cy="1850.3" r="3.3" fill="#000"/>
<circle cx="280.1" cy="1850.3" r="3.3" fill="#000"/>
<circle cx="263.0" cy="1857.7" r="3.3" fill="#000"/>
<circle cx="272.6" cy="1861.2" r="3.3" fill="#000"/>
<circle cx="282.4" cy="1863.9" r="3.3" fill="#000"/>
<circle cx="272.6" cy="1873.1" r="3.3" fill="#000"/>
<circle cx="317.5" cy="1793.1" r="3.3" fill="#000"/>
<circle cx="317.5" cy="1816.9" r="3.3" fill="#000"/>
<circle cx="312.4" cy="1830.5" r="3.3" fill="#000"/>
<circle cx="321.9" cy="1830.5" r="3.3" fill="#000"/>
<circle cx="317.5" cy="1850.3" r="3.3" fill="#000"/>
<circle cx="326.0" cy="1852.6" r="3.3" fill="#000"/>
<circle cx="309.0" cy="1859.4" r="3.3" fill="#000"/>
<circle cx="317.5" cy="1857.7" r="3.3" fill="#000"/>
<circle cx="306.3" cy="1866.3" r="3.3" fill="#000"/>
<circle cx="314.1" cy="1868.0" r="3.3" fill="#000"/>
<circle cx="321.9" cy="1871.4" r="3.3" fill="#000"/>
<circle cx="328.7" cy="1873.1" r="3.3" fill="#000"/>
<text x="272.1" y="1572.0" font-size="25" text-anchor="middle"><tspan font-style="italic">P</tspan> = 0.0226</text>
<path d="M226.9 1587.0 V1577.9 H317.5 V1587.0" fill="none" stroke="#000" stroke-width="1.5"/>
<text x="271.5" y="1603.0" font-size="28.5" text-anchor="middle">*</text>
<text x="310.7" y="1748.8" font-size="25" text-anchor="middle"><tspan font-style="italic">P</tspan> = 0.8457</text>
<path d="M271.5 1767.5 V1753.9 H317.5 V1767.5" fill="none" stroke="#000" stroke-width="1.5"/>
<text x="295.4" y="1780.1" font-size="25" text-anchor="middle">NS</text>
<text x="588.2" y="1536.6" font-size="25" text-anchor="middle" font-style="italic">POLE3</text>
<rect x="529.2" y="1776.7" width="29.0" height="105.9" fill="#9b0000" stroke="#000" stroke-width="1.5"/>
<rect x="574.2" y="1840.7" width="29.4" height="41.9" fill="#ffffff" stroke="#000" stroke-width="1.5"/>
<rect x="619.5" y="1847.5" width="29.0" height="35.1" fill="#4d9cf0" stroke="#000" stroke-width="1.5"/>
<line x1="498.0" y1="1581.9" x2="498.0" y2="1882.6" stroke="#000" stroke-width="1.5"/>
<line x1="489.8" y1="1882.6" x2="679.0" y2="1882.6" stroke="#000" stroke-width="1.5"/>
<line x1="489.8" y1="1581.9" x2="498.0" y2="1581.9" stroke="#000" stroke-width="1.5"/>
<text x="477.6" y="1590.9" font-size="25" text-anchor="end">5</text>
<line x1="489.8" y1="1642.0" x2="498.0" y2="1642.0" stroke="#000" stroke-width="1.5"/>
<text x="477.6" y="1651.0" font-size="25" text-anchor="end">4</text>
<line x1="489.8" y1="1702.1" x2="498.0" y2="1702.1" stroke="#000" stroke-width="1.5"/>
<text x="477.6" y="1711.1" font-size="25" text-anchor="end">3</text>
<line x1="489.8" y1="1762.3" x2="498.0" y2="1762.3" stroke="#000" stroke-width="1.5"/>
<text x="477.6" y="1771.3" font-size="25" text-anchor="end">2</text>
<line x1="489.8" y1="1822.4" x2="498.0" y2="1822.4" stroke="#000" stroke-width="1.5"/>
<text x="477.6" y="1831.4" font-size="25" text-anchor="end">1</text>
<line x1="489.8" y1="1882.6" x2="498.0" y2="1882.6" stroke="#000" stroke-width="1.5"/>
<text x="477.6" y="1891.6" font-size="25" text-anchor="end">0</text>
<text x="436.2" y="1731.8" font-size="25" text-anchor="middle" transform="rotate(-90 436.2 1731.8)">Relative expression</text>
<line x1="543.2" y1="1882.6" x2="543.2" y2="1891.1" stroke="#000" stroke-width="1.5"/>
<text x="549.5" y="1912.2" font-size="25" text-anchor="end" transform="rotate(-45 549.5 1912.2)" letter-spacing="0.3">H-relapse</text>
<line x1="588.2" y1="1882.6" x2="588.2" y2="1891.1" stroke="#000" stroke-width="1.5"/>
<text x="594.5" y="1912.2" font-size="25" text-anchor="end" transform="rotate(-45 594.5 1912.2)" letter-spacing="0.3">L-relapse</text>
<line x1="633.5" y1="1882.6" x2="633.5" y2="1891.1" stroke="#000" stroke-width="1.5"/>
<text x="639.8" y="1912.2" font-size="25" text-anchor="end" transform="rotate(-45 639.8 1912.2)" letter-spacing="0.3">Non-relapse</text>
<line x1="543.2" y1="1680.7" x2="543.2" y2="1872.0" stroke="#000" stroke-width="1.5"/>
<line x1="535.6" y1="1680.7" x2="550.8" y2="1680.7" stroke="#000" stroke-width="1.5"/>
<line x1="535.6" y1="1872.0" x2="550.8" y2="1872.0" stroke="#000" stroke-width="1.5"/>
<line x1="588.2" y1="1818.6" x2="588.2" y2="1861.8" stroke="#000" stroke-width="1.5"/>
<line x1="580.6" y1="1818.6" x2="595.8" y2="1818.6" stroke="#000" stroke-width="1.5"/>
<line x1="580.6" y1="1861.8" x2="595.8" y2="1861.8" stroke="#000" stroke-width="1.5"/>
<line x1="633.5" y1="1823.7" x2="633.5" y2="1869.7" stroke="#000" stroke-width="1.5"/>
<line x1="625.9" y1="1823.7" x2="641.1" y2="1823.7" stroke="#000" stroke-width="1.5"/>
<line x1="625.9" y1="1869.7" x2="641.1" y2="1869.7" stroke="#000" stroke-width="1.5"/>
<circle cx="543.3" cy="1595.6" r="3.3" fill="#000"/>
<circle cx="543.3" cy="1620.4" r="3.3" fill="#000"/>
<circle cx="543.3" cy="1716.1" r="3.3" fill="#000"/>
<circle cx="543.3" cy="1732.4" r="3.3" fill="#000"/>
<circle cx="547.4" cy="1819.6" r="3.3" fill="#000"/>
<circle cx="538.8" cy="1822.0" r="3.3" fill="#000"/>
<circle cx="532.0" cy="1839.7" r="3.3" fill="#000"/>
<circle cx="538.8" cy="1842.4" r="3.3" fill="#000"/>
<circle cx="546.3" cy="1843.1" r="3.3" fill="#000"/>
<circle cx="554.2" cy="1845.8" r="3.3" fill="#000"/>
<circle cx="543.3" cy="1862.9" r="3.3" fill="#000"/>
<circle cx="583.1" cy="1803.3" r="3.3" fill="#000"/>
<circle cx="593.3" cy="1810.8" r="3.3" fill="#000"/>
<circle cx="588.2" cy="1830.5" r="3.3" fill="#000"/>
<circle cx="598.4" cy="1840.7" r="3.3" fill="#000"/>
<circle cx="578.7" cy="1845.8" r="3.3" fill="#000"/>
<circle cx="588.2" cy="1847.5" r="3.3" fill="#000"/>
<circle cx="583.1" cy="1857.7" r="3.3" fill="#000"/>
<circle cx="593.3" cy="1857.7" r="3.3" fill="#000"/>
<circle cx="593.3" cy="1868.6" r="3.3" fill="#000"/>
<circle cx="633.5" cy="1803.6" r="3.3" fill="#000"/>
<circle cx="633.5" cy="1825.4" r="3.3" fill="#000"/>
<circle cx="635.9" cy="1836.6" r="3.3" fill="#000"/>
<circle cx="644.4" cy="1838.3" r="3.3" fill="#000"/>
<circle cx="629.1" cy="1842.4" r="3.3" fill="#000"/>
<circle cx="622.9" cy="1846.9" r="3.3" fill="#000"/>
<circle cx="633.5" cy="1862.9" r="3.3" fill="#000"/>
<circle cx="622.9" cy="1868.6" r="3.3" fill="#000"/>
<circle cx="633.5" cy="1877.5" r="3.3" fill="#000"/>
<circle cx="641.0" cy="1877.5" r="3.3" fill="#000"/>
<text x="588.4" y="1572.0" font-size="25" text-anchor="middle"><tspan font-style="italic">P</tspan> = 0.0269</text>
<path d="M543.2 1587.0 V1577.9 H633.5 V1587.0" fill="none" stroke="#000" stroke-width="1.5"/>
<text x="587.5" y="1603.0" font-size="28.5" text-anchor="middle">*</text>
<text x="625.7" y="1748.8" font-size="25" text-anchor="middle"><tspan font-style="italic">P</tspan> = 0.4891</text>
<path d="M587.2 1767.5 V1753.9 H633.5 V1767.5" fill="none" stroke="#000" stroke-width="1.5"/>
<text x="611.4" y="1780.1" font-size="25" text-anchor="middle">NS</text>
<text x="902.8" y="1536.6" font-size="25" text-anchor="middle" font-style="italic">POLE4</text>
<rect x="843.8" y="1777.7" width="29.4" height="104.9" fill="#9b0000" stroke="#000" stroke-width="1.5"/>
<rect x="889.1" y="1825.4" width="29.0" height="57.2" fill="#ffffff" stroke="#000" stroke-width="1.5"/>
<rect x="934.1" y="1850.3" width="29.4" height="32.3" fill="#4d9cf0" stroke="#000" stroke-width="1.5"/>
<line x1="812.6" y1="1581.9" x2="812.6" y2="1882.6" stroke="#000" stroke-width="1.5"/>
<line x1="804.4" y1="1882.6" x2="993.6" y2="1882.6" stroke="#000" stroke-width="1.5"/>
<line x1="804.4" y1="1581.9" x2="812.6" y2="1581.9" stroke="#000" stroke-width="1.5"/>
<text x="792.2" y="1590.9" font-size="25" text-anchor="end">12</text>
<line x1="804.4" y1="1657.1" x2="812.6" y2="1657.1" stroke="#000" stroke-width="1.5"/>
<text x="792.2" y="1666.1" font-size="25" text-anchor="end">9</text>
<line x1="804.4" y1="1732.3" x2="812.6" y2="1732.3" stroke="#000" stroke-width="1.5"/>
<text x="792.2" y="1741.3" font-size="25" text-anchor="end">6</text>
<line x1="804.4" y1="1807.4" x2="812.6" y2="1807.4" stroke="#000" stroke-width="1.5"/>
<text x="792.2" y="1816.4" font-size="25" text-anchor="end">3</text>
<line x1="804.4" y1="1882.6" x2="812.6" y2="1882.6" stroke="#000" stroke-width="1.5"/>
<text x="792.2" y="1891.6" font-size="25" text-anchor="end">0</text>
<text x="748.4" y="1731.8" font-size="25" text-anchor="middle" transform="rotate(-90 748.4 1731.8)">Relative expression</text>
<line x1="857.9" y1="1882.6" x2="857.9" y2="1891.1" stroke="#000" stroke-width="1.5"/>
<text x="864.2" y="1912.2" font-size="25" text-anchor="end" transform="rotate(-45 864.2 1912.2)" letter-spacing="0.3">H-relapse</text>
<line x1="903.2" y1="1882.6" x2="903.2" y2="1891.1" stroke="#000" stroke-width="1.5"/>
<text x="909.5" y="1912.2" font-size="25" text-anchor="end" transform="rotate(-45 909.5 1912.2)" letter-spacing="0.3">L-relapse</text>
<line x1="948.1" y1="1882.6" x2="948.1" y2="1891.1" stroke="#000" stroke-width="1.5"/>
<text x="954.4" y="1912.2" font-size="25" text-anchor="end" transform="rotate(-45 954.4 1912.2)" letter-spacing="0.3">Non-relapse</text>
<line x1="857.9" y1="1701.8" x2="857.9" y2="1852.6" stroke="#000" stroke-width="1.5"/>
<line x1="850.3" y1="1701.8" x2="865.5" y2="1701.8" stroke="#000" stroke-width="1.5"/>
<line x1="850.3" y1="1852.6" x2="865.5" y2="1852.6" stroke="#000" stroke-width="1.5"/>
<line x1="903.2" y1="1792.0" x2="903.2" y2="1857.1" stroke="#000" stroke-width="1.5"/>
<line x1="895.6" y1="1792.0" x2="910.8" y2="1792.0" stroke="#000" stroke-width="1.5"/>
<line x1="895.6" y1="1857.1" x2="910.8" y2="1857.1" stroke="#000" stroke-width="1.5"/>
<line x1="948.1" y1="1822.7" x2="948.1" y2="1876.5" stroke="#000" stroke-width="1.5"/>
<line x1="940.5" y1="1822.7" x2="955.7" y2="1822.7" stroke="#000" stroke-width="1.5"/>
<line x1="940.5" y1="1876.5" x2="955.7" y2="1876.5" stroke="#000" stroke-width="1.5"/>
<circle cx="857.9" cy="1598.3" r="3.3" fill="#000"/>
<circle cx="857.9" cy="1717.5" r="3.3" fill="#000"/>
<circle cx="857.9" cy="1742.7" r="3.3" fill="#000"/>
<circle cx="850.0" cy="1759.7" r="3.3" fill="#000"/>
<circle cx="865.4" cy="1765.8" r="3.3" fill="#000"/>
<circle cx="850.0" cy="1798.2" r="3.3" fill="#000"/>
<circle cx="865.4" cy="1795.8" r="3.3" fill="#000"/>
<circle cx="850.0" cy="1815.9" r="3.3" fill="#000"/>
<circle cx="865.4" cy="1825.1" r="3.3" fill="#000"/>
<circle cx="857.9" cy="1858.4" r="3.3" fill="#000"/>
<circle cx="857.9" cy="1869.7" r="3.3" fill="#000"/>
<circle cx="903.2" cy="1749.5" r="3.3" fill="#000"/>
<circle cx="903.2" cy="1789.6" r="3.3" fill="#000"/>
<circle cx="903.2" cy="1809.1" r="3.3" fill="#000"/>
<circle cx="903.2" cy="1822.0" r="3.3" fill="#000"/>
<circle cx="894.3" cy="1828.8" r="3.3" fill="#000"/>
<circle cx="913.0" cy="1828.8" r="3.3" fill="#000"/>
<circle cx="893.3" cy="1837.3" r="3.3" fill="#000"/>
<circle cx="903.2" cy="1839.0" r="3.3" fill="#000"/>
<circle cx="913.0" cy="1839.0" r="3.3" fill="#000"/>
<circle cx="898.4" cy="1855.0" r="3.3" fill="#000"/>
<circle cx="903.2" cy="1870.3" r="3.3" fill="#000"/>
<circle cx="948.1" cy="1796.1" r="3.3" fill="#000"/>
<circle cx="948.1" cy="1813.5" r="3.3" fill="#000"/>
<circle cx="948.1" cy="1828.8" r="3.3" fill="#000"/>
<circle cx="943.7" cy="1845.8" r="3.3" fill="#000"/>
<circle cx="951.5" cy="1846.9" r="3.3" fill="#000"/>
<circle cx="948.1" cy="1858.4" r="3.3" fill="#000"/>
<circle cx="943.7" cy="1859.4" r="3.3" fill="#000"/>
<circle cx="938.6" cy="1870.3" r="3.3" fill="#000"/>
<circle cx="948.1" cy="1871.4" r="3.3" fill="#000"/>
<circle cx="943.7" cy="1874.8" r="3.3" fill="#000"/>
<circle cx="953.9" cy="1876.5" r="3.3" fill="#000"/>
<circle cx="959.0" cy="1878.2" r="3.3" fill="#000"/>
<text x="902.8" y="1568.6" font-size="25" text-anchor="middle"><tspan font-style="italic">P</tspan> = 0.0069</text>
<path d="M857.9 1583.6 V1574.1 H948.1 V1583.6" fill="none" stroke="#000" stroke-width="1.5"/>
<text x="902.8" y="1599.5" font-size="28.5" text-anchor="middle">**</text>
<text x="942.8" y="1677.6" font-size="25" text-anchor="middle"><tspan font-style="italic">P</tspan> = 0.0618</text>
<path d="M901.8 1698.4 V1683.1 H947.4 V1698.4" fill="none" stroke="#000" stroke-width="1.5"/>
<text x="924.3" y="1709.6" font-size="25" text-anchor="middle">NS</text>
<text x="1194.0" y="1536.6" font-size="25" text-anchor="middle" font-style="italic">RBX1</text>
<rect x="1135.6" y="1727.3" width="29.4" height="155.3" fill="#9b0000" stroke="#000" stroke-width="1.5"/>
<rect x="1180.9" y="1808.4" width="29.0" height="74.2" fill="#ffffff" stroke="#000" stroke-width="1.5"/>
<rect x="1226.2" y="1811.8" width="29.0" height="70.8" fill="#4d9cf0" stroke="#000" stroke-width="1.5"/>
<line x1="1104.7" y1="1581.9" x2="1104.7" y2="1882.6" stroke="#000" stroke-width="1.5"/>
<line x1="1096.5" y1="1882.6" x2="1285.7" y2="1882.6" stroke="#000" stroke-width="1.5"/>
<line x1="1096.5" y1="1581.9" x2="1104.7" y2="1581.9" stroke="#000" stroke-width="1.5"/>
<text x="1084.3" y="1590.9" font-size="25" text-anchor="end">5</text>
<line x1="1096.5" y1="1642.0" x2="1104.7" y2="1642.0" stroke="#000" stroke-width="1.5"/>
<text x="1084.3" y="1651.0" font-size="25" text-anchor="end">4</text>
<line x1="1096.5" y1="1702.1" x2="1104.7" y2="1702.1" stroke="#000" stroke-width="1.5"/>
<text x="1084.3" y="1711.1" font-size="25" text-anchor="end">3</text>
<line x1="1096.5" y1="1762.3" x2="1104.7" y2="1762.3" stroke="#000" stroke-width="1.5"/>
<text x="1084.3" y="1771.3" font-size="25" text-anchor="end">2</text>
<line x1="1096.5" y1="1822.4" x2="1104.7" y2="1822.4" stroke="#000" stroke-width="1.5"/>
<text x="1084.3" y="1831.4" font-size="25" text-anchor="end">1</text>
<line x1="1096.5" y1="1882.6" x2="1104.7" y2="1882.6" stroke="#000" stroke-width="1.5"/>
<text x="1084.3" y="1891.6" font-size="25" text-anchor="end">0</text>
<text x="1044.6" y="1731.8" font-size="25" text-anchor="middle" transform="rotate(-90 1044.6 1731.8)">Relative expression</text>
<line x1="1149.7" y1="1882.6" x2="1149.7" y2="1891.1" stroke="#000" stroke-width="1.5"/>
<text x="1156.0" y="1912.2" font-size="25" text-anchor="end" transform="rotate(-45 1156.0 1912.2)" letter-spacing="0.3">H-relapse</text>
<line x1="1195.0" y1="1882.6" x2="1195.0" y2="1891.1" stroke="#000" stroke-width="1.5"/>
<text x="1201.3" y="1912.2" font-size="25" text-anchor="end" transform="rotate(-45 1201.3 1912.2)" letter-spacing="0.3">L-relapse</text>
<line x1="1240.6" y1="1882.6" x2="1240.6" y2="1891.1" stroke="#000" stroke-width="1.5"/>
<text x="1246.9" y="1912.2" font-size="25" text-anchor="end" transform="rotate(-45 1246.9 1912.2)" letter-spacing="0.3">Non-relapse</text>
<line x1="1149.7" y1="1656.8" x2="1149.7" y2="1795.8" stroke="#000" stroke-width="1.5"/>
<line x1="1142.1" y1="1656.8" x2="1157.3" y2="1656.8" stroke="#000" stroke-width="1.5"/>
<line x1="1142.1" y1="1795.8" x2="1157.3" y2="1795.8" stroke="#000" stroke-width="1.5"/>
<line x1="1195.0" y1="1768.5" x2="1195.0" y2="1846.5" stroke="#000" stroke-width="1.5"/>
<line x1="1187.4" y1="1768.5" x2="1202.6" y2="1768.5" stroke="#000" stroke-width="1.5"/>
<line x1="1187.4" y1="1846.5" x2="1202.6" y2="1846.5" stroke="#000" stroke-width="1.5"/>
<line x1="1240.6" y1="1773.3" x2="1240.6" y2="1849.2" stroke="#000" stroke-width="1.5"/>
<line x1="1233.0" y1="1773.3" x2="1248.2" y2="1773.3" stroke="#000" stroke-width="1.5"/>
<line x1="1233.0" y1="1849.2" x2="1248.2" y2="1849.2" stroke="#000" stroke-width="1.5"/>
<circle cx="1142.2" cy="1639.8" r="3.3" fill="#000"/>
<circle cx="1157.5" cy="1639.8" r="3.3" fill="#000"/>
<circle cx="1149.7" cy="1650.7" r="3.3" fill="#000"/>
<circle cx="1142.2" cy="1710.3" r="3.3" fill="#000"/>
<circle cx="1157.5" cy="1717.5" r="3.3" fill="#000"/>
<circle cx="1142.2" cy="1726.7" r="3.3" fill="#000"/>
<circle cx="1149.7" cy="1741.0" r="3.3" fill="#000"/>
<circle cx="1149.7" cy="1770.9" r="3.3" fill="#000"/>
<circle cx="1149.7" cy="1829.5" r="3.3" fill="#000"/>
<circle cx="1149.7" cy="1846.9" r="3.3" fill="#000"/>
<circle cx="1195.0" cy="1721.5" r="3.3" fill="#000"/>
<circle cx="1195.0" cy="1780.5" r="3.3" fill="#000"/>
<circle cx="1185.4" cy="1789.6" r="3.3" fill="#000"/>
<circle cx="1195.0" cy="1796.5" r="3.3" fill="#000"/>
<circle cx="1204.8" cy="1796.5" r="3.3" fill="#000"/>
<circle cx="1199.7" cy="1802.6" r="3.3" fill="#000"/>
<circle cx="1189.9" cy="1810.1" r="3.3" fill="#000"/>
<circle cx="1189.9" cy="1836.6" r="3.3" fill="#000"/>
<circle cx="1195.0" cy="1835.6" r="3.3" fill="#000"/>
<circle cx="1199.7" cy="1844.8" r="3.3" fill="#000"/>
<circle cx="1195.0" cy="1867.3" r="3.3" fill="#000"/>
<circle cx="1240.6" cy="1757.3" r="3.3" fill="#000"/>
<circle cx="1230.4" cy="1770.9" r="3.3" fill="#000"/>
<circle cx="1250.1" cy="1770.9" r="3.3" fill="#000"/>
<circle cx="1240.6" cy="1778.7" r="3.3" fill="#000"/>
<circle cx="1240.6" cy="1790.7" r="3.3" fill="#000"/>
<circle cx="1240.6" cy="1815.9" r="3.3" fill="#000"/>
<circle cx="1230.4" cy="1827.1" r="3.3" fill="#000"/>
<circle cx="1240.6" cy="1827.1" r="3.3" fill="#000"/>
<circle cx="1250.1" cy="1825.4" r="3.3" fill="#000"/>
<circle cx="1240.6" cy="1839.0" r="3.3" fill="#000"/>
<circle cx="1240.6" cy="1860.5" r="3.3" fill="#000"/>
<circle cx="1240.6" cy="1873.8" r="3.3" fill="#000"/>
<text x="1195.3" y="1572.0" font-size="25" text-anchor="middle"><tspan font-style="italic">P</tspan> = 0.0014</text>
<path d="M1149.7 1587.0 V1577.9 H1240.6 V1587.0" fill="none" stroke="#000" stroke-width="1.5"/>
<text x="1197.4" y="1603.0" font-size="28.5" text-anchor="middle">**</text>
<text x="1234.8" y="1681.7" font-size="25" text-anchor="middle"><tspan font-style="italic">P</tspan> = 0.7990</text>
<path d="M1195.0 1701.1 V1685.8 H1240.6 V1701.1" fill="none" stroke="#000" stroke-width="1.5"/>
<text x="1217.8" y="1712.0" font-size="25" text-anchor="middle">NS</text>
</svg>
</body></html>
